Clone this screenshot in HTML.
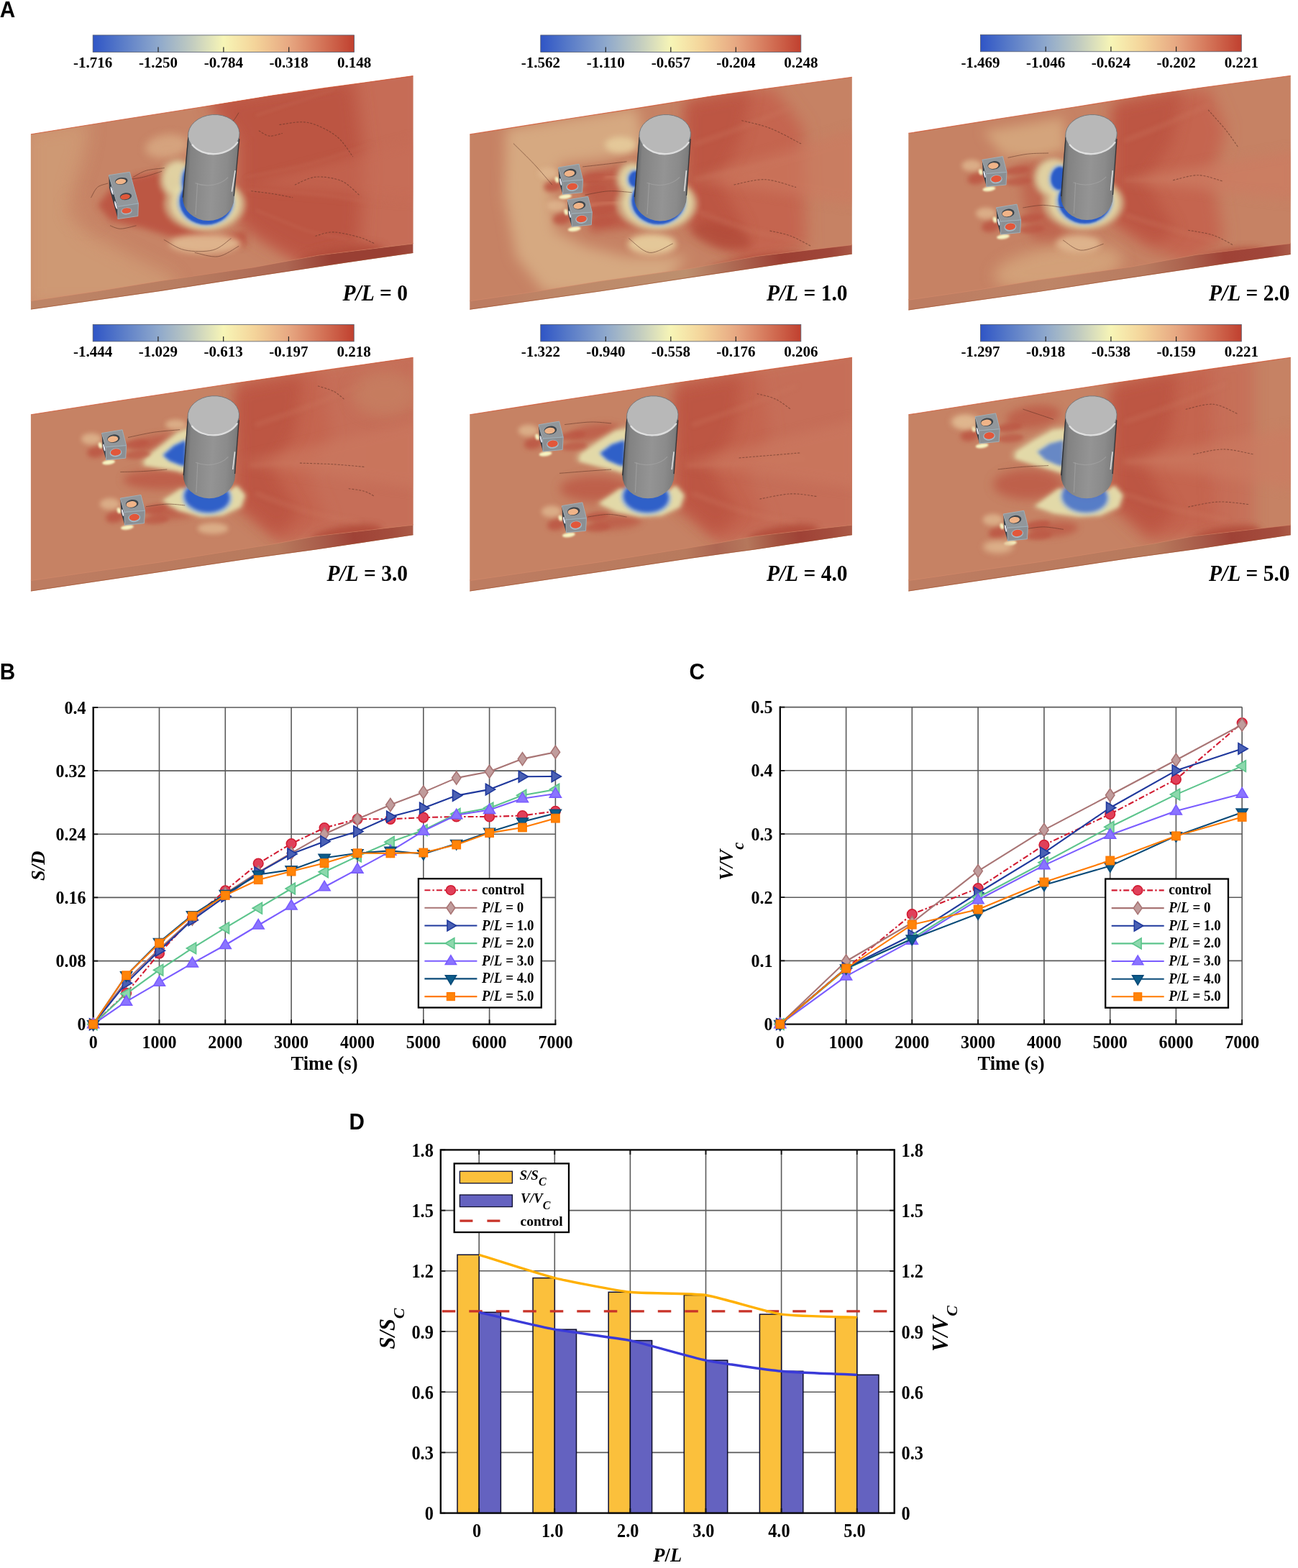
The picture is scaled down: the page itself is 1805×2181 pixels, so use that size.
<!DOCTYPE html>
<html><head><meta charset="utf-8"><title>Figure</title>
<style>
html,body{margin:0;padding:0;background:#fff;}
body{width:1805px;height:2181px;overflow:hidden;}
svg{display:block;}
text{font-family:"Liberation Serif",serif;font-weight:bold;fill:#000;}
.pl{font-family:"Liberation Sans",sans-serif;font-weight:bold;font-size:29.7px;}
.i{font-style:italic;}
</style></head><body>
<svg width="1805" height="2181" viewBox="0 0 1805 2181">
<rect width="1805" height="2181" fill="#fff"/>
<defs><filter id="b0_5" x="-50%" y="-50%" width="200%" height="200%"><feGaussianBlur stdDeviation="0.5"/></filter><filter id="b1" x="-50%" y="-50%" width="200%" height="200%"><feGaussianBlur stdDeviation="1"/></filter><filter id="b1_2" x="-50%" y="-50%" width="200%" height="200%"><feGaussianBlur stdDeviation="1.2"/></filter><filter id="b1_5" x="-50%" y="-50%" width="200%" height="200%"><feGaussianBlur stdDeviation="1.5"/></filter><filter id="b2" x="-50%" y="-50%" width="200%" height="200%"><feGaussianBlur stdDeviation="2"/></filter><filter id="b2_5" x="-50%" y="-50%" width="200%" height="200%"><feGaussianBlur stdDeviation="2.5"/></filter><filter id="b3" x="-50%" y="-50%" width="200%" height="200%"><feGaussianBlur stdDeviation="3"/></filter><filter id="b3_5" x="-50%" y="-50%" width="200%" height="200%"><feGaussianBlur stdDeviation="3.5"/></filter><filter id="b4" x="-50%" y="-50%" width="200%" height="200%"><feGaussianBlur stdDeviation="4"/></filter><filter id="b5" x="-50%" y="-50%" width="200%" height="200%"><feGaussianBlur stdDeviation="5"/></filter><filter id="b6" x="-50%" y="-50%" width="200%" height="200%"><feGaussianBlur stdDeviation="6"/></filter><filter id="b7" x="-50%" y="-50%" width="200%" height="200%"><feGaussianBlur stdDeviation="7"/></filter><filter id="b8" x="-50%" y="-50%" width="200%" height="200%"><feGaussianBlur stdDeviation="8"/></filter><filter id="b9" x="-50%" y="-50%" width="200%" height="200%"><feGaussianBlur stdDeviation="9"/></filter><filter id="b10" x="-50%" y="-50%" width="200%" height="200%"><feGaussianBlur stdDeviation="10"/></filter><filter id="b11" x="-50%" y="-50%" width="200%" height="200%"><feGaussianBlur stdDeviation="11"/></filter><filter id="b12" x="-50%" y="-50%" width="200%" height="200%"><feGaussianBlur stdDeviation="12"/></filter></defs>
<text class="pl" transform="translate(-0.3 24.4) scale(1 1.04)">A</text>
<defs>
<clipPath id="c13"><path d="M42.9 186.8L168.5 166.5L274.9 149.8L377.9 133L451.9 122.4L574.4 105.6L574.4 339.1L442.4 355.2L352.2 372L223.3 390.7L136.3 404.9L42.9 418.7Z"/></clipPath>
<linearGradient id="g14" gradientUnits="userSpaceOnUse" x1="42.9" y1="186.8" x2="574.4" y2="105.6"><stop offset="0" stop-color="#c78466"/><stop offset="1" stop-color="#c78466"/></linearGradient>
<linearGradient id="s15" gradientUnits="userSpaceOnUse" x1="42.9" y1="186.8" x2="574.4" y2="105.6"><stop offset="0" stop-color="#bd8466"/><stop offset="0.33" stop-color="#b87d61"/><stop offset="0.6" stop-color="#ad6753"/><stop offset="0.72" stop-color="#993f33"/><stop offset="0.88" stop-color="#993f33"/><stop offset="1" stop-color="#a85747"/></linearGradient>
</defs>
<path d="M42.9 417.7L136.3 403.9L223.3 389.7L352.2 371L442.4 354.2L574.4 338.1L574.4 352L481 365.5L352.2 384.9L223.3 404.9L42.9 430.6Z" fill="url(#s15)"/>
<path d="M42.9 186.8L168.5 166.5L274.9 149.8L377.9 133L451.9 122.4L574.4 105.6L574.4 339.1L442.4 355.2L352.2 372L223.3 390.7L136.3 404.9L42.9 418.7Z" fill="url(#g14)"/>
<g clip-path="url(#c13)">
<path d="M35.7 178.4L124.9 167.7L117.7 214.1L99.9 271.1L117.7 321.1L185.5 356.8L242.6 385.3L249.7 428.1L35.7 428.1Z" fill="#cf9a75" opacity="0.95" filter="url(#b12)"/>
<ellipse cx="117.7" cy="292.5" rx="25" ry="21.4" fill="#c78466" opacity="0.5" filter="url(#b10)"/>
<path d="M285.4 135.6L585.1 89.2L585.1 349.6L421 367.5L363.9 331.8L331.8 306.8L331.8 192.7Z" fill="#c66c56" filter="url(#b8)"/>
<path d="M289 139.1L492.3 107L506.6 221.2L499.5 342.5L421 363.9L363.9 331.8L331.8 306.8L331.8 192.7Z" fill="#bc5442" filter="url(#b12)"/>
<ellipse cx="474.5" cy="356.8" rx="60.6" ry="14.3" fill="#b04838" opacity="0.85" transform="rotate(-9 474.5 356.8)" filter="url(#b6)"/>
<path d="M135.6 285.4L160.5 255.1L189.1 244.4L228.3 237.2L256.9 256.9L260.4 313.9L303.2 330L342.5 321.1L342.5 342.5L285.4 342.5L228.3 326.4L199.8 317.5L153.4 306.8Z" fill="#bc5442" opacity="0.95" filter="url(#b5)"/>
<ellipse cx="285.4" cy="338.9" rx="49.9" ry="13.6" fill="#e0b890" opacity="0.95" filter="url(#b4)"/>
<ellipse cx="231.9" cy="203.4" rx="30.3" ry="16.1" fill="#d9ab84" opacity="0.8" transform="rotate(-8 231.9 203.4)" filter="url(#b6)"/>
<path d="M342.5 246.2C356.8 243.2 399 236.1 428.1 228.3C457.2 220.6 502.4 204.5 517.3 199.8" fill="none" stroke="#c66c56" stroke-width="3" opacity="0.4" filter="url(#b2)" stroke-linecap="round"/>
<path d="M342.5 264C359.7 265.2 413.8 267.6 446 271.1C478.1 274.7 520.3 283 535.1 285.4" fill="none" stroke="#c66c56" stroke-width="3" opacity="0.4" filter="url(#b2)" stroke-linecap="round"/>
<path d="M356.8 292.5C368.7 297.3 407.3 314.5 428.1 321.1C448.9 327.6 472.7 330 481.6 331.8" fill="none" stroke="#c66c56" stroke-width="3" opacity="0.4" filter="url(#b2)" stroke-linecap="round"/>
<path d="M356.8 160.5C365.7 157.6 392.4 148.7 410.3 142.7C428.1 136.8 454.9 127.8 463.8 124.9" fill="none" stroke="#c66c56" stroke-width="3" opacity="0.4" filter="url(#b2)" stroke-linecap="round"/>
<path d="M342.5 256.9L585.1 192.7L585.1 278.3Z" fill="#c86e58" opacity="0.5" filter="url(#b8)"/>
<ellipse cx="284.8" cy="284.1" rx="57" ry="38" fill="#d2b088" opacity="0.8" filter="url(#b3_5)"/>
<ellipse cx="245.8" cy="248.6" rx="24.5" ry="28" fill="#d2b088" opacity="0.8" transform="rotate(10 245.8 248.6)" filter="url(#b3_5)"/>
<ellipse cx="285.8" cy="283.6" rx="49" ry="34.5" fill="#e4dcaa" opacity="0.8" filter="url(#b3)"/>
<ellipse cx="246.8" cy="248.6" rx="19.5" ry="23" fill="#e4dcaa" opacity="0.8" transform="rotate(10 246.8 248.6)" filter="url(#b3)"/>
<ellipse cx="286.3" cy="281.1" rx="40" ry="34" fill="#9ab4d6" opacity="0.9" filter="url(#b2)"/>
<ellipse cx="257.8" cy="249.6" rx="7.5" ry="18" fill="#9ab4d6" opacity="0.9" transform="rotate(6 257.8 249.6)" filter="url(#b2)"/>
<ellipse cx="286.8" cy="279.6" rx="37" ry="33" fill="#2a5cc8" filter="url(#b1_2)"/>
<ellipse cx="258.8" cy="249.6" rx="5" ry="15" fill="#2a5cc8" transform="rotate(5 258.8 249.6)" filter="url(#b1_5)"/>
<path d="M185.5 246.2C188.5 244.7 196.2 239.3 203.4 237.2C210.5 235.2 224.2 234.3 228.3 233.7" fill="none" stroke="#5a3024" stroke-width="0.9" opacity="0.6" filter="url(#b0_5)" stroke-linecap="round"/>
<path d="M178.4 249.7C181.9 249.1 192.1 248.1 199.8 246.2C207.5 244.3 220.6 239.6 224.8 238.3" fill="none" stroke="#5a3024" stroke-width="0.9" opacity="0.6" filter="url(#b0_5)" stroke-linecap="round"/>
<path d="M126.7 274.7C128.1 272.3 131.7 263.7 135.6 260.4C139.4 257.2 147.5 256 149.8 255.1" fill="none" stroke="#5a3024" stroke-width="0.9" opacity="0.6" filter="url(#b0_5)" stroke-linecap="round"/>
<path d="M153.4 313.9C155.8 314.7 161.7 318.2 167.7 318.2C173.6 318.2 185.5 314.7 189.1 313.9" fill="none" stroke="#5a3024" stroke-width="0.9" opacity="0.6" filter="url(#b0_5)" stroke-linecap="round"/>
<path d="M228.3 333.6C233.1 335.9 245.6 345.5 256.9 347.8C268.2 350.2 285.4 350.5 296.1 347.8C306.8 345.2 316.9 334.5 321.1 331.8" fill="none" stroke="#5a3024" stroke-width="0.9" opacity="0.6" filter="url(#b0_5)" stroke-linecap="round"/>
<path d="M271.1 351.4C276.5 352.3 293.1 358.2 303.2 356.8C313.4 355.3 327 344.9 331.8 342.5" fill="none" stroke="#5a3024" stroke-width="0.9" opacity="0.6" filter="url(#b0_5)" stroke-linecap="round"/>
<path d="M331.8 157C330.6 158.8 327 165.3 324.7 167.7C322.3 170.1 318.7 170.7 317.5 171.2" fill="none" stroke="#5a3024" stroke-width="0.9" opacity="0.6" filter="url(#b0_5)" stroke-linecap="round"/>
<path d="M388.9 173.4C395.4 172.9 415 167.9 428.1 170.5C441.2 173.1 457 181.2 467.4 189.1C477.8 196.9 486.7 212.9 490.5 217.6" fill="none" stroke="#5a3024" stroke-width="1.1" opacity="0.55" stroke-dasharray="2.2 2.6" filter="url(#b0_5)" stroke-linecap="round"/>
<path d="M410.3 256.9C415 255.1 428.1 247.1 438.8 246.2C449.5 245.3 464.4 247.4 474.5 251.5C484.6 255.7 495.3 267.9 499.5 271.1" fill="none" stroke="#5a3024" stroke-width="1.1" opacity="0.55" stroke-dasharray="2.2 2.6" filter="url(#b0_5)" stroke-linecap="round"/>
<path d="M438.8 328.2C443 327.3 453.7 322.6 463.8 322.9C473.9 323.2 490 327.3 499.5 330C509 332.7 517.3 337.4 520.9 338.9" fill="none" stroke="#5a3024" stroke-width="1.1" opacity="0.55" stroke-dasharray="2.2 2.6" filter="url(#b0_5)" stroke-linecap="round"/>
<path d="M349.6 265.8C354.4 266.4 368.7 267.9 378.2 269.4C387.7 270.8 402 273.8 406.7 274.7" fill="none" stroke="#5a3024" stroke-width="1.1" opacity="0.55" stroke-dasharray="2.2 2.6" filter="url(#b0_5)" stroke-linecap="round"/>
<path d="M360.3 181.9C362.7 183.1 369.2 188.5 374.6 189.1C380 189.7 389.5 186.1 392.4 185.5" fill="none" stroke="#5a3024" stroke-width="1.1" opacity="0.55" stroke-dasharray="2.2 2.6" filter="url(#b0_5)" stroke-linecap="round"/>
</g>
<path d="M42.9 186.8L168.5 166.5L274.9 149.8L377.9 133L451.9 122.4L574.4 105.6" fill="none" stroke="#d2502e" stroke-width="1.1" opacity="0.75"/><path d="M42.9 418.7L136.3 404.9L223.3 390.7L352.2 372L442.4 355.2L574.4 339.1" fill="none" stroke="#e09070" stroke-width="0.8" opacity="0.5"/><path d="M42.9 430.1L223.3 404.4L352.2 384.4L481 365L574.4 351.5" fill="none" stroke="#a0522e" stroke-width="1" opacity="0.6"/>
<path d="M151.3 243.7L163.9 287.5L163.9 304.5L151.9 261.2Z" fill="#3a3f46"/>
<path d="M151.3 243.7L180.3 239.3L192.4 283.1L163.9 287.5Z" fill="#92979b" stroke="#9fb2bc" stroke-width="0.9" stroke-linejoin="round"/>
<path d="M163.9 287.5L192.4 283.1L191.8 300.6L163.9 304.5Z" fill="#8b8f93" stroke="#9fb2bc" stroke-width="0.9" stroke-linejoin="round"/>
<ellipse cx="168.8" cy="251.9" rx="8.8" ry="4.9" fill="#3e444a" transform="rotate(-8 168.8 251.9)"/>
<ellipse cx="168" cy="252.5" rx="7.3" ry="3.7" fill="#f0b488" transform="rotate(-8 168 252.5)"/>
<ellipse cx="174.9" cy="273.2" rx="8.2" ry="4.9" fill="#3e444a" transform="rotate(-8 174.9 273.2)"/>
<ellipse cx="174.1" cy="273.8" rx="6.8" ry="3.6" fill="#e0583a" transform="rotate(-8 174.1 273.8)"/>
<ellipse cx="176" cy="293.5" rx="7.7" ry="4.9" fill="#a3b8c4" transform="rotate(-6 176 293.5)"/>
<ellipse cx="176" cy="293" rx="6.6" ry="3.8" fill="#e2573a" transform="rotate(-6 176 293)"/>
<ellipse cx="155.6" cy="265.3" rx="1.2" ry="6" fill="#e8e8f0" transform="rotate(-16 155.6 265.3)"/>
<ellipse cx="161.1" cy="285.3" rx="1.2" ry="6" fill="#e8e8f0" transform="rotate(-16 161.1 285.3)"/>
<defs><linearGradient id="cg1" gradientUnits="userSpaceOnUse" x1="254" y1="274.6" x2="333.1" y2="278.6"><stop offset="0" stop-color="#4a4d52"/><stop offset="0.04" stop-color="#6c6e70"/><stop offset="0.1" stop-color="#828282"/><stop offset="0.3" stop-color="#8c8c8c"/><stop offset="0.5" stop-color="#949494"/><stop offset="0.75" stop-color="#8b8b8b"/><stop offset="0.9" stop-color="#7e7e7e"/><stop offset="0.96" stop-color="#626262"/><stop offset="1" stop-color="#303030"/></linearGradient></defs>
<path d="M261.5 187.1L254 274.6A35.8 32 0 0 0 325.6 275.6L333.1 187.1Z" fill="url(#cg1)"/>
<path d="M261.8 191.1L254.3 274.6" stroke="#20242a" stroke-width="1.3" fill="none" opacity="0.8"/>
<path d="M332.8 193.1L325.3 272.6" stroke="#20242a" stroke-width="1.3" fill="none" opacity="0.8"/>
<path d="M271.6 254.6A35.8 27.6 0 0 0 317.2 246.6" stroke="#a4a4a4" stroke-width="1.2" fill="none" opacity="0.7"/>
<path d="M274.6 254.6L272 298.6" stroke="#a0a0a0" stroke-width="1.2" fill="none" opacity="0.8"/>
<path d="M327.1 237.1L322.4 266.6" stroke="#dedede" stroke-width="1.6" fill="none"/>
<ellipse cx="297.3" cy="187.1" rx="35.8" ry="27.6" fill="#b8b8b8" stroke="#6a7074" stroke-width="0.8" transform="rotate(-4 297.3 187.1)"/>
<path d="M267.5 201.6A35.8 27.6 -4 0 0 330.1 198.1" stroke="#e6e6e6" stroke-width="2.4" fill="none" opacity="0.9" stroke-linecap="round"/>
<defs><linearGradient id="cb2" x1="0" x2="1" y1="0" y2="0"><stop offset="0" stop-color="#2f55c6"/><stop offset="0.1" stop-color="#5578c8"/><stop offset="0.25" stop-color="#8ea8cc"/><stop offset="0.38" stop-color="#c2ccc0"/><stop offset="0.5" stop-color="#f7f5b6"/><stop offset="0.62" stop-color="#f4d49a"/><stop offset="0.75" stop-color="#e7a882"/><stop offset="0.9" stop-color="#d06a50"/><stop offset="1" stop-color="#c0402f"/></linearGradient></defs>
<rect x="129.2" y="48.9" width="363.3" height="23.5" fill="url(#cb2)" stroke="#50586a" stroke-width="0.8"/>
<path d="M220 72.4v-7" stroke="#222" stroke-width="1.2"/>
<path d="M310.9 72.4v-7" stroke="#222" stroke-width="1.2"/>
<path d="M401.7 72.4v-7" stroke="#222" stroke-width="1.2"/>
<text x="129.2" y="94.4" font-size="21" text-anchor="middle">-1.716</text>
<text x="220" y="94.4" font-size="21" text-anchor="middle">-1.250</text>
<text x="310.9" y="94.4" font-size="21" text-anchor="middle">-0.784</text>
<text x="401.7" y="94.4" font-size="21" text-anchor="middle">-0.318</text>
<text x="492.5" y="94.4" font-size="21" text-anchor="middle">0.148</text>
<text transform="translate(567 418.2) scale(1 1.06)" font-size="29.5" text-anchor="end"><tspan class="i">P/L</tspan> = 0</text>
<defs>
<clipPath id="c16"><path d="M653.3 186.9L778.9 167L885.3 150.6L988.3 134L1062.3 123.7L1184.8 107.2L1184.8 340.7L1052.8 356.4L962.6 373L833.7 391.3L746.7 405.3L653.3 418.8Z"/></clipPath>
<linearGradient id="g17" gradientUnits="userSpaceOnUse" x1="653.3" y1="186.9" x2="1184.8" y2="107.2"><stop offset="0" stop-color="#c68264"/><stop offset="1" stop-color="#c68264"/></linearGradient>
<linearGradient id="s18" gradientUnits="userSpaceOnUse" x1="653.3" y1="186.9" x2="1184.8" y2="107.2"><stop offset="0" stop-color="#bd7c61"/><stop offset="0.2" stop-color="#be8969"/><stop offset="0.5" stop-color="#bd8f6e"/><stop offset="0.66" stop-color="#a95d4a"/><stop offset="0.75" stop-color="#9c3f33"/><stop offset="0.88" stop-color="#9f4639"/><stop offset="1" stop-color="#b46c54"/></linearGradient>
</defs>
<path d="M653.3 417.8L746.7 404.3L833.7 390.3L962.6 372L1052.8 355.4L1184.8 339.7L1184.8 353.6L1091.4 366.8L962.6 385.9L833.7 405.5L653.3 430.7Z" fill="url(#s18)"/>
<path d="M653.3 186.9L778.9 167L885.3 150.6L988.3 134L1062.3 123.7L1184.8 107.2L1184.8 340.7L1052.8 356.4L962.6 373L833.7 391.3L746.7 405.3L653.3 418.8Z" fill="url(#g17)"/>
<g clip-path="url(#c16)">
<path d="M703.5 178.4L885.4 149.8L896.1 199.8L849.7 219.4L778.4 228.3L767.7 271.1L771.2 321.1L814.1 342.5L871.1 356.8L956.8 356.8L921.1 396L821.2 410.3L757 406.7L717.7 356.8L701.7 271.1Z" fill="#d6a981" filter="url(#b9)"/>
<path d="M956.8 139.1L1074.5 121.3L1117.3 178.4L1120.9 342.5L1046 371L992.4 331.8L956.8 310.4Z" fill="#c5654f" filter="url(#b11)"/>
<path d="M953.2 142.7L1046 124.9L1028.1 199.8L999.6 249.7L1038.8 321.1L1010.3 342.5L956.8 310.4Z" fill="#bc5442" opacity="0.9" filter="url(#b10)"/>
<ellipse cx="1053.1" cy="365.7" rx="67.8" ry="10.7" fill="#b04838" opacity="0.85" transform="rotate(-9 1053.1 365.7)" filter="url(#b5)"/>
<ellipse cx="1003.1" cy="328.2" rx="42.8" ry="16.1" fill="#b04838" opacity="0.7" transform="rotate(15 1003.1 328.2)" filter="url(#b6)"/>
<path d="M810.5 240.8L881.8 228.3L889 315.7L821.2 322.9Z" fill="#bc5442" opacity="0.8" filter="url(#b6)"/>
<path d="M814.1 249.7C820 249.1 839 246.2 849.7 246.2C860.4 246.2 873.5 249.1 878.3 249.7" fill="none" stroke="#d88468" stroke-width="4" opacity="0.6" filter="url(#b2)" stroke-linecap="round"/>
<path d="M821.2 285.4C827.1 284.8 846.2 281.8 856.9 281.8C867.6 281.8 880.7 284.8 885.4 285.4" fill="none" stroke="#d88468" stroke-width="4" opacity="0.6" filter="url(#b2)" stroke-linecap="round"/>
<path d="M967.5 249.7C980.5 246.8 1019.2 237.8 1046 231.9C1072.7 225.9 1114.3 217 1128 214.1" fill="none" stroke="#cc7860" stroke-width="5" opacity="0.4" filter="url(#b3)" stroke-linecap="round"/>
<path d="M967.5 199.8C977.6 196.2 1006.1 186.7 1028.1 178.4C1050.1 170.1 1087.6 154.6 1099.5 149.8" fill="none" stroke="#cc7860" stroke-width="5" opacity="0.4" filter="url(#b3)" stroke-linecap="round"/>
<path d="M974.6 296.1C986.5 300.3 1022.2 314.5 1046 321.1C1069.7 327.6 1105.4 333 1117.3 335.4" fill="none" stroke="#cc7860" stroke-width="5" opacity="0.4" filter="url(#b3)" stroke-linecap="round"/>
<ellipse cx="906.8" cy="339.6" rx="33.9" ry="14.3" fill="#e6cc9c" opacity="0.95" filter="url(#b4)"/>
<ellipse cx="863.3" cy="201.6" rx="22.1" ry="11.4" fill="#e6cc9c" opacity="0.9" filter="url(#b4)"/>
<path d="M960.3 249.7L1192.2 178.4L1192.2 285.4Z" fill="#cc7a60" opacity="0.6" filter="url(#b8)"/>
<ellipse cx="913.4" cy="283.5" rx="57" ry="38" fill="#d2b088" opacity="0.8" filter="url(#b3_5)"/>
<ellipse cx="877.4" cy="248" rx="21.5" ry="24" fill="#d2b088" opacity="0.8" transform="rotate(10 877.4 248)" filter="url(#b3_5)"/>
<ellipse cx="914.4" cy="283" rx="49" ry="34.5" fill="#e4dcaa" opacity="0.8" filter="url(#b3)"/>
<ellipse cx="878.4" cy="248" rx="16.5" ry="19" fill="#e4dcaa" opacity="0.8" transform="rotate(10 878.4 248)" filter="url(#b3)"/>
<ellipse cx="914.9" cy="280.5" rx="40" ry="34" fill="#9ab4d6" opacity="0.9" filter="url(#b2)"/>
<ellipse cx="882.4" cy="249" rx="11.5" ry="14" fill="#9ab4d6" opacity="0.9" transform="rotate(6 882.4 249)" filter="url(#b2)"/>
<ellipse cx="915.4" cy="279" rx="37" ry="33" fill="#2a5cc8" filter="url(#b1_2)"/>
<ellipse cx="883.4" cy="249" rx="9" ry="11" fill="#2a5cc8" transform="rotate(5 883.4 249)" filter="url(#b1_5)"/>
<ellipse cx="769" cy="259" rx="13" ry="8" fill="#bc5442" opacity="0.85" transform="rotate(-10 769 259)" filter="url(#b3)"/>
<ellipse cx="824" cy="248" rx="18" ry="6" fill="#bc5442" opacity="0.765" transform="rotate(-8 824 248)" filter="url(#b2_5)"/>
<ellipse cx="826" cy="263" rx="18" ry="6" fill="#bc5442" opacity="0.68" transform="rotate(-5 826 263)" filter="url(#b2_5)"/>
<ellipse cx="762" cy="241" rx="14" ry="8" fill="#e0b890" opacity="0.8" filter="url(#b3)"/>
<ellipse cx="786" cy="273.5" rx="9" ry="3.2" fill="#f6f4c2" transform="rotate(-8 786 273.5)" filter="url(#b1_2)"/>
<ellipse cx="774.5" cy="250" rx="2.6" ry="4.2" fill="#f6f4c2" transform="rotate(-15 774.5 250)" filter="url(#b1)"/>
<ellipse cx="781.7" cy="304" rx="13" ry="8" fill="#bc5442" opacity="0.85" transform="rotate(-10 781.7 304)" filter="url(#b3)"/>
<ellipse cx="836.7" cy="293" rx="18" ry="6" fill="#bc5442" opacity="0.765" transform="rotate(-8 836.7 293)" filter="url(#b2_5)"/>
<ellipse cx="838.7" cy="308" rx="18" ry="6" fill="#bc5442" opacity="0.68" transform="rotate(-5 838.7 308)" filter="url(#b2_5)"/>
<ellipse cx="774.7" cy="286" rx="14" ry="8" fill="#e0b890" opacity="0.8" filter="url(#b3)"/>
<ellipse cx="798.7" cy="318.5" rx="9" ry="3.2" fill="#f6f4c2" transform="rotate(-8 798.7 318.5)" filter="url(#b1_2)"/>
<ellipse cx="787.2" cy="295" rx="2.6" ry="4.2" fill="#f6f4c2" transform="rotate(-15 787.2 295)" filter="url(#b1)"/>
<path d="M810.5 231.9C815.8 231.3 832.5 229.5 842.6 228.3C852.7 227.1 866.4 225.4 871.1 224.8" fill="none" stroke="#5a3024" stroke-width="0.9" opacity="0.6" filter="url(#b0_5)" stroke-linecap="round"/>
<path d="M814.1 271.1C819.4 270.2 835.5 266.4 846.2 265.8C856.9 265.2 872.9 267.3 878.3 267.6" fill="none" stroke="#5a3024" stroke-width="0.9" opacity="0.6" filter="url(#b0_5)" stroke-linecap="round"/>
<path d="M874.7 331.8C879.5 335.1 893.1 350.2 903.2 351.4C913.4 352.6 930 341 935.4 338.9" fill="none" stroke="#5a3024" stroke-width="0.9" opacity="0.6" filter="url(#b0_5)" stroke-linecap="round"/>
<path d="M714.2 199.8C718.9 204.5 733.8 218.8 742.7 228.3C751.6 237.8 763.5 252.1 767.7 256.9" fill="none" stroke="#5a3024" stroke-width="0.9" opacity="0.6" filter="url(#b0_5)" stroke-linecap="round"/>
<path d="M1031.7 167.7C1038.2 169.5 1057.2 173 1070.9 178.4C1084.6 183.7 1106.6 196.2 1113.7 199.8" fill="none" stroke="#5a3024" stroke-width="1.1" opacity="0.55" stroke-dasharray="2.2 2.6" filter="url(#b0_5)" stroke-linecap="round"/>
<path d="M1021 256.9C1028.1 255.7 1049.5 249.1 1063.8 249.7C1078.1 250.3 1099.5 258.7 1106.6 260.4" fill="none" stroke="#5a3024" stroke-width="1.1" opacity="0.55" stroke-dasharray="2.2 2.6" filter="url(#b0_5)" stroke-linecap="round"/>
<path d="M1070.9 321.1C1075.7 322.3 1090 324.7 1099.5 328.2C1109 331.8 1123.2 340.1 1128 342.5" fill="none" stroke="#5a3024" stroke-width="1.1" opacity="0.55" stroke-dasharray="2.2 2.6" filter="url(#b0_5)" stroke-linecap="round"/>
</g>
<path d="M653.3 186.9L778.9 167L885.3 150.6L988.3 134L1062.3 123.7L1184.8 107.2" fill="none" stroke="#d2502e" stroke-width="1.1" opacity="0.75"/><path d="M653.3 418.8L746.7 405.3L833.7 391.3L962.6 373L1052.8 356.4L1184.8 340.7" fill="none" stroke="#e09070" stroke-width="0.8" opacity="0.5"/><path d="M653.3 430.2L833.7 405L962.6 385.4L1091.4 366.3L1184.8 353.1" fill="none" stroke="#a0522e" stroke-width="1" opacity="0.6"/>
<path d="M776.4 233L781.8 252.4L782.5 270.2L777.6 253.6Z" fill="#3a3f46"/>
<path d="M776.4 233L805 228.3L810.6 250.2L781.8 252.4Z" fill="#92979b" stroke="#9fb2bc" stroke-width="0.9" stroke-linejoin="round"/>
<path d="M781.8 252.4L810.6 250.2L809.6 267.7L782.5 270.2Z" fill="#8b8f93" stroke="#9fb2bc" stroke-width="0.9" stroke-linejoin="round"/>
<ellipse cx="792.8" cy="240.6" rx="8.8" ry="5.7" fill="#3e444a" transform="rotate(-8 792.8 240.6)"/>
<ellipse cx="791.9" cy="241.3" rx="7.3" ry="4.3" fill="#f0b488" transform="rotate(-8 791.9 241.3)"/>
<ellipse cx="795.9" cy="260" rx="8.4" ry="6" fill="#a3b8c4" transform="rotate(-6 795.9 260)"/>
<ellipse cx="795.9" cy="259.4" rx="7.2" ry="4.7" fill="#e2573a" transform="rotate(-6 795.9 259.4)"/>
<ellipse cx="779.7" cy="253" rx="1.1" ry="5" fill="#e8e8f0" transform="rotate(-12 779.7 253)"/>
<path d="M789.1 278L794.5 297.4L795.2 315.2L790.3 298.6Z" fill="#3a3f46"/>
<path d="M789.1 278L817.7 273.3L823.3 295.2L794.5 297.4Z" fill="#92979b" stroke="#9fb2bc" stroke-width="0.9" stroke-linejoin="round"/>
<path d="M794.5 297.4L823.3 295.2L822.3 312.7L795.2 315.2Z" fill="#8b8f93" stroke="#9fb2bc" stroke-width="0.9" stroke-linejoin="round"/>
<ellipse cx="805.5" cy="285.6" rx="8.8" ry="5.7" fill="#3e444a" transform="rotate(-8 805.5 285.6)"/>
<ellipse cx="804.6" cy="286.3" rx="7.3" ry="4.3" fill="#f0b488" transform="rotate(-8 804.6 286.3)"/>
<ellipse cx="808.6" cy="305" rx="8.4" ry="6" fill="#a3b8c4" transform="rotate(-6 808.6 305)"/>
<ellipse cx="808.6" cy="304.4" rx="7.2" ry="4.7" fill="#e2573a" transform="rotate(-6 808.6 304.4)"/>
<ellipse cx="792.4" cy="298" rx="1.1" ry="5" fill="#e8e8f0" transform="rotate(-12 792.4 298)"/>
<defs><linearGradient id="cg3" gradientUnits="userSpaceOnUse" x1="882" y1="274" x2="960.5" y2="278"><stop offset="0" stop-color="#4a4d52"/><stop offset="0.04" stop-color="#6c6e70"/><stop offset="0.1" stop-color="#828282"/><stop offset="0.3" stop-color="#8c8c8c"/><stop offset="0.5" stop-color="#949494"/><stop offset="0.75" stop-color="#8b8b8b"/><stop offset="0.9" stop-color="#7e7e7e"/><stop offset="0.96" stop-color="#626262"/><stop offset="1" stop-color="#303030"/></linearGradient></defs>
<path d="M888.9 187.1L882 274A36.4 33 0 0 0 954.8 275L960.5 187.1Z" fill="url(#cg3)"/>
<path d="M889.2 191.1L882.3 274" stroke="#20242a" stroke-width="1.3" fill="none" opacity="0.8"/>
<path d="M960.2 193.1L954.5 272" stroke="#20242a" stroke-width="1.3" fill="none" opacity="0.8"/>
<path d="M899.6 254.3A35.8 27.6 0 0 0 945.2 246.3" stroke="#a4a4a4" stroke-width="1.2" fill="none" opacity="0.7"/>
<path d="M902.6 254.3L900 298" stroke="#a0a0a0" stroke-width="1.2" fill="none" opacity="0.8"/>
<path d="M954.5 237.1L951.6 266" stroke="#dedede" stroke-width="1.6" fill="none"/>
<ellipse cx="924.7" cy="187.1" rx="35.8" ry="27.6" fill="#b8b8b8" stroke="#6a7074" stroke-width="0.8" transform="rotate(-4 924.7 187.1)"/>
<path d="M894.9 201.6A35.8 27.6 -4 0 0 957.5 198.1" stroke="#e6e6e6" stroke-width="2.4" fill="none" opacity="0.9" stroke-linecap="round"/>
<defs><linearGradient id="cb4" x1="0" x2="1" y1="0" y2="0"><stop offset="0" stop-color="#2f55c6"/><stop offset="0.1" stop-color="#5578c8"/><stop offset="0.25" stop-color="#8ea8cc"/><stop offset="0.38" stop-color="#c2ccc0"/><stop offset="0.5" stop-color="#f7f5b6"/><stop offset="0.62" stop-color="#f4d49a"/><stop offset="0.75" stop-color="#e7a882"/><stop offset="0.9" stop-color="#d06a50"/><stop offset="1" stop-color="#c0402f"/></linearGradient></defs>
<rect x="751.8" y="48.9" width="362" height="23.5" fill="url(#cb4)" stroke="#50586a" stroke-width="0.8"/>
<path d="M842.3 72.4v-7" stroke="#222" stroke-width="1.2"/>
<path d="M932.8 72.4v-7" stroke="#222" stroke-width="1.2"/>
<path d="M1023.3 72.4v-7" stroke="#222" stroke-width="1.2"/>
<text x="751.8" y="94.4" font-size="21" text-anchor="middle">-1.562</text>
<text x="842.3" y="94.4" font-size="21" text-anchor="middle">-1.110</text>
<text x="932.8" y="94.4" font-size="21" text-anchor="middle">-0.657</text>
<text x="1023.3" y="94.4" font-size="21" text-anchor="middle">-0.204</text>
<text x="1113.8" y="94.4" font-size="21" text-anchor="middle">0.248</text>
<text transform="translate(1178.5 418.2) scale(1 1.06)" font-size="29.5" text-anchor="end"><tspan class="i">P/L</tspan> = 1.0</text>
<defs>
<clipPath id="c19"><path d="M1263.3 185.4L1388.9 165.3L1495.3 148.8L1598.3 132.2L1672.3 121.8L1794.8 105.2L1794.8 338.7L1662.8 354.6L1572.6 371.2L1443.7 389.6L1356.7 403.7L1263.3 417.3Z"/></clipPath>
<linearGradient id="g20" gradientUnits="userSpaceOnUse" x1="1263.3" y1="185.4" x2="1794.8" y2="105.2"><stop offset="0" stop-color="#c68264"/><stop offset="1" stop-color="#c68264"/></linearGradient>
<linearGradient id="s21" gradientUnits="userSpaceOnUse" x1="1263.3" y1="185.4" x2="1794.8" y2="105.2"><stop offset="0" stop-color="#bd7c61"/><stop offset="0.3" stop-color="#be8567"/><stop offset="0.55" stop-color="#b87b60"/><stop offset="0.68" stop-color="#a95d4a"/><stop offset="0.76" stop-color="#9f4236"/><stop offset="0.88" stop-color="#a0463a"/><stop offset="1" stop-color="#b8765b"/></linearGradient>
</defs>
<path d="M1263.3 416.3L1356.7 402.7L1443.7 388.6L1572.6 370.2L1662.8 353.6L1794.8 337.7L1794.8 353.9L1701.4 367.2L1572.6 386.4L1443.7 406.1L1263.3 431.5Z" fill="url(#s21)"/>
<path d="M1263.3 185.4L1388.9 165.3L1495.3 148.8L1598.3 132.2L1672.3 121.8L1794.8 105.2L1794.8 338.7L1662.8 354.6L1572.6 371.2L1443.7 389.6L1356.7 403.7L1263.3 417.3Z" fill="url(#g20)"/>
<g clip-path="url(#c19)">
<path d="M1367.1 182.8L1478.5 163.6L1482 208.9L1443.7 222.8L1394.9 215.8Z" fill="#d4a47c" filter="url(#b8)"/>
<ellipse cx="1471.5" cy="372.5" rx="90.5" ry="29.6" fill="#d4a47c" opacity="0.9" transform="rotate(-8 1471.5 372.5)" filter="url(#b10)"/>
<path d="M1551.6 142.7L1680.4 121.8L1704.8 181L1687.3 243.7L1701.3 334.2L1652.5 369L1582.9 334.2L1548.1 306.3Z" fill="#c5654f" filter="url(#b11)"/>
<path d="M1548.1 146.2L1645.6 125.3L1628.2 201.9L1593.4 250.6L1635.1 320.3L1607.3 341.1L1548.1 306.3Z" fill="#bc5442" opacity="0.9" filter="url(#b10)"/>
<ellipse cx="1711.7" cy="358.5" rx="48.7" ry="12.2" fill="#b04838" opacity="0.85" transform="rotate(-9 1711.7 358.5)" filter="url(#b5)"/>
<path d="M1415.8 226.3L1475 219.3L1482 264.6L1478.5 334.2L1436.7 334.2L1422.8 278.5Z" fill="#bc5442" opacity="0.6" filter="url(#b8)"/>
<path d="M1565.5 250.6C1578.9 250.3 1618.3 250.1 1645.6 248.9C1672.8 247.7 1715.2 244.5 1729.1 243.7" fill="none" stroke="#cc7860" stroke-width="5" opacity="0.4" filter="url(#b3)" stroke-linecap="round"/>
<path d="M1565.5 194.9C1574.2 191.5 1598.6 182.2 1617.7 174.1C1636.9 165.9 1669.9 150.8 1680.4 146.2" fill="none" stroke="#cc7860" stroke-width="5" opacity="0.4" filter="url(#b3)" stroke-linecap="round"/>
<path d="M1565.5 299.4C1577.1 302.9 1614.8 314.5 1635.1 320.3C1655.4 326.1 1678.6 331.9 1687.3 334.2" fill="none" stroke="#cc7860" stroke-width="5" opacity="0.4" filter="url(#b3)" stroke-linecap="round"/>
<path d="M1555.1 250.6L1802.2 208.9L1802.2 278.5Z" fill="#cc7c62" opacity="0.75" filter="url(#b8)"/>
<ellipse cx="1506.6" cy="282.5" rx="57" ry="38" fill="#d2b088" opacity="0.8" filter="url(#b3_5)"/>
<ellipse cx="1464.1" cy="247" rx="28" ry="29" fill="#d2b088" opacity="0.8" transform="rotate(10 1464.1 247)" filter="url(#b3_5)"/>
<ellipse cx="1507.6" cy="282" rx="49" ry="34.5" fill="#e4dcaa" opacity="0.8" filter="url(#b3)"/>
<ellipse cx="1465.1" cy="247" rx="23" ry="24" fill="#e4dcaa" opacity="0.8" transform="rotate(10 1465.1 247)" filter="url(#b3)"/>
<ellipse cx="1508.1" cy="279.5" rx="40" ry="34" fill="#9ab4d6" opacity="0.9" filter="url(#b2)"/>
<ellipse cx="1472.6" cy="248" rx="14.5" ry="19" fill="#9ab4d6" opacity="0.9" transform="rotate(6 1472.6 248)" filter="url(#b2)"/>
<ellipse cx="1508.6" cy="278" rx="37" ry="33" fill="#2a5cc8" filter="url(#b1_2)"/>
<ellipse cx="1473.6" cy="248" rx="12" ry="16" fill="#2a5cc8" transform="rotate(5 1473.6 248)" filter="url(#b1_5)"/>
<ellipse cx="1358.4" cy="248.3" rx="13" ry="8" fill="#bc5442" opacity="0.85" transform="rotate(-10 1358.4 248.3)" filter="url(#b3)"/>
<ellipse cx="1413.4" cy="237.3" rx="18" ry="6" fill="#bc5442" opacity="0.765" transform="rotate(-8 1413.4 237.3)" filter="url(#b2_5)"/>
<ellipse cx="1415.4" cy="252.3" rx="18" ry="6" fill="#bc5442" opacity="0.68" transform="rotate(-5 1415.4 252.3)" filter="url(#b2_5)"/>
<ellipse cx="1351.4" cy="230.3" rx="14" ry="8" fill="#e0b890" opacity="0.8" filter="url(#b3)"/>
<ellipse cx="1375.4" cy="262.8" rx="9" ry="3.2" fill="#f6f4c2" transform="rotate(-8 1375.4 262.8)" filter="url(#b1_2)"/>
<ellipse cx="1363.9" cy="239.3" rx="2.6" ry="4.2" fill="#f6f4c2" transform="rotate(-15 1363.9 239.3)" filter="url(#b1)"/>
<ellipse cx="1378" cy="314.8" rx="13" ry="8" fill="#bc5442" opacity="0.85" transform="rotate(-10 1378 314.8)" filter="url(#b3)"/>
<ellipse cx="1433" cy="303.8" rx="18" ry="6" fill="#bc5442" opacity="0.765" transform="rotate(-8 1433 303.8)" filter="url(#b2_5)"/>
<ellipse cx="1435" cy="318.8" rx="18" ry="6" fill="#bc5442" opacity="0.68" transform="rotate(-5 1435 318.8)" filter="url(#b2_5)"/>
<ellipse cx="1371" cy="296.8" rx="14" ry="8" fill="#e0b890" opacity="0.8" filter="url(#b3)"/>
<ellipse cx="1395" cy="329.3" rx="9" ry="3.2" fill="#f6f4c2" transform="rotate(-8 1395 329.3)" filter="url(#b1_2)"/>
<ellipse cx="1383.5" cy="305.8" rx="2.6" ry="4.2" fill="#f6f4c2" transform="rotate(-15 1383.5 305.8)" filter="url(#b1)"/>
<ellipse cx="1499.4" cy="339.4" rx="31.3" ry="12.2" fill="#e0b890" opacity="0.9" filter="url(#b4)"/>
<path d="M1401.9 219.3C1406.5 218.4 1420.5 215.1 1429.7 214.1C1439 213 1453 213.2 1457.6 213" fill="none" stroke="#5a3024" stroke-width="0.9" opacity="0.6" filter="url(#b0_5)" stroke-linecap="round"/>
<path d="M1422.8 288.9C1427.4 288.3 1441.4 285.4 1450.6 285.4C1459.9 285.4 1473.8 288.3 1478.5 288.9" fill="none" stroke="#5a3024" stroke-width="0.9" opacity="0.6" filter="url(#b0_5)" stroke-linecap="round"/>
<path d="M1478.5 334.2C1482.5 336.5 1493.6 347.2 1502.9 348.1C1512.1 349 1529 340.9 1534.2 339.4" fill="none" stroke="#5a3024" stroke-width="0.9" opacity="0.6" filter="url(#b0_5)" stroke-linecap="round"/>
<path d="M1680.4 153.2C1684.4 157.8 1697.8 172.3 1704.8 181C1711.7 189.7 1719.3 201.3 1722.2 205.4" fill="none" stroke="#5a3024" stroke-width="1.1" opacity="0.55" stroke-dasharray="2.2 2.6" filter="url(#b0_5)" stroke-linecap="round"/>
<path d="M1631.6 250.6C1637.5 249.5 1654.9 243.4 1666.5 243.7C1678.1 244 1695.5 250.9 1701.3 252.4" fill="none" stroke="#5a3024" stroke-width="1.1" opacity="0.55" stroke-dasharray="2.2 2.6" filter="url(#b0_5)" stroke-linecap="round"/>
<path d="M1652.5 320.3C1658.3 321.4 1676.9 323.7 1687.3 327.2C1697.8 330.7 1710.6 338.8 1715.2 341.1" fill="none" stroke="#5a3024" stroke-width="1.1" opacity="0.55" stroke-dasharray="2.2 2.6" filter="url(#b0_5)" stroke-linecap="round"/>
</g>
<path d="M1263.3 185.4L1388.9 165.3L1495.3 148.8L1598.3 132.2L1672.3 121.8L1794.8 105.2" fill="none" stroke="#d2502e" stroke-width="1.1" opacity="0.75"/><path d="M1263.3 417.3L1356.7 403.7L1443.7 389.6L1572.6 371.2L1662.8 354.6L1794.8 338.7" fill="none" stroke="#e09070" stroke-width="0.8" opacity="0.5"/><path d="M1263.3 431L1443.7 405.6L1572.6 385.9L1701.4 366.7L1794.8 353.4" fill="none" stroke="#a0522e" stroke-width="1" opacity="0.6"/>
<path d="M1365.8 222.3L1371.2 241.7L1371.9 259.5L1367 242.9Z" fill="#3a3f46"/>
<path d="M1365.8 222.3L1394.4 217.6L1400 239.5L1371.2 241.7Z" fill="#92979b" stroke="#9fb2bc" stroke-width="0.9" stroke-linejoin="round"/>
<path d="M1371.2 241.7L1400 239.5L1399 257L1371.9 259.5Z" fill="#8b8f93" stroke="#9fb2bc" stroke-width="0.9" stroke-linejoin="round"/>
<ellipse cx="1382.2" cy="229.9" rx="8.8" ry="5.7" fill="#3e444a" transform="rotate(-8 1382.2 229.9)"/>
<ellipse cx="1381.3" cy="230.6" rx="7.3" ry="4.3" fill="#f0b488" transform="rotate(-8 1381.3 230.6)"/>
<ellipse cx="1385.3" cy="249.3" rx="8.4" ry="6" fill="#a3b8c4" transform="rotate(-6 1385.3 249.3)"/>
<ellipse cx="1385.3" cy="248.7" rx="7.2" ry="4.7" fill="#e2573a" transform="rotate(-6 1385.3 248.7)"/>
<ellipse cx="1369.1" cy="242.3" rx="1.1" ry="5" fill="#e8e8f0" transform="rotate(-12 1369.1 242.3)"/>
<path d="M1385.4 288.8L1390.8 308.2L1391.5 326L1386.6 309.4Z" fill="#3a3f46"/>
<path d="M1385.4 288.8L1414 284.1L1419.6 306L1390.8 308.2Z" fill="#92979b" stroke="#9fb2bc" stroke-width="0.9" stroke-linejoin="round"/>
<path d="M1390.8 308.2L1419.6 306L1418.6 323.5L1391.5 326Z" fill="#8b8f93" stroke="#9fb2bc" stroke-width="0.9" stroke-linejoin="round"/>
<ellipse cx="1401.8" cy="296.4" rx="8.8" ry="5.7" fill="#3e444a" transform="rotate(-8 1401.8 296.4)"/>
<ellipse cx="1400.9" cy="297.1" rx="7.3" ry="4.3" fill="#f0b488" transform="rotate(-8 1400.9 297.1)"/>
<ellipse cx="1404.9" cy="315.8" rx="8.4" ry="6" fill="#a3b8c4" transform="rotate(-6 1404.9 315.8)"/>
<ellipse cx="1404.9" cy="315.2" rx="7.2" ry="4.7" fill="#e2573a" transform="rotate(-6 1404.9 315.2)"/>
<ellipse cx="1388.7" cy="308.8" rx="1.1" ry="5" fill="#e8e8f0" transform="rotate(-12 1388.7 308.8)"/>
<defs><linearGradient id="cg5" gradientUnits="userSpaceOnUse" x1="1475.4" y1="273" x2="1553.3" y2="277"><stop offset="0" stop-color="#4a4d52"/><stop offset="0.04" stop-color="#6c6e70"/><stop offset="0.1" stop-color="#828282"/><stop offset="0.3" stop-color="#8c8c8c"/><stop offset="0.5" stop-color="#949494"/><stop offset="0.75" stop-color="#8b8b8b"/><stop offset="0.9" stop-color="#7e7e7e"/><stop offset="0.96" stop-color="#626262"/><stop offset="1" stop-color="#303030"/></linearGradient></defs>
<path d="M1481.7 187.1L1475.4 273A36.2 32.6 0 0 0 1547.8 274L1553.3 187.1Z" fill="url(#cg5)"/>
<path d="M1482 191.1L1475.7 273" stroke="#20242a" stroke-width="1.3" fill="none" opacity="0.8"/>
<path d="M1553 193.1L1547.5 271" stroke="#20242a" stroke-width="1.3" fill="none" opacity="0.8"/>
<path d="M1492.6 253.8A35.8 27.6 0 0 0 1538.2 245.8" stroke="#a4a4a4" stroke-width="1.2" fill="none" opacity="0.7"/>
<path d="M1495.6 253.8L1493.4 297" stroke="#a0a0a0" stroke-width="1.2" fill="none" opacity="0.8"/>
<path d="M1547.3 237.1L1544.6 265" stroke="#dedede" stroke-width="1.6" fill="none"/>
<ellipse cx="1517.5" cy="187.1" rx="35.8" ry="27.6" fill="#b8b8b8" stroke="#6a7074" stroke-width="0.8" transform="rotate(-4 1517.5 187.1)"/>
<path d="M1487.7 201.6A35.8 27.6 -4 0 0 1550.3 198.1" stroke="#e6e6e6" stroke-width="2.4" fill="none" opacity="0.9" stroke-linecap="round"/>
<defs><linearGradient id="cb6" x1="0" x2="1" y1="0" y2="0"><stop offset="0" stop-color="#2f55c6"/><stop offset="0.1" stop-color="#5578c8"/><stop offset="0.25" stop-color="#8ea8cc"/><stop offset="0.38" stop-color="#c2ccc0"/><stop offset="0.5" stop-color="#f7f5b6"/><stop offset="0.62" stop-color="#f4d49a"/><stop offset="0.75" stop-color="#e7a882"/><stop offset="0.9" stop-color="#d06a50"/><stop offset="1" stop-color="#c0402f"/></linearGradient></defs>
<rect x="1363.5" y="48.3" width="362.8" height="23.5" fill="url(#cb6)" stroke="#50586a" stroke-width="0.8"/>
<path d="M1454.2 71.8v-7" stroke="#222" stroke-width="1.2"/>
<path d="M1544.9 71.8v-7" stroke="#222" stroke-width="1.2"/>
<path d="M1635.6 71.8v-7" stroke="#222" stroke-width="1.2"/>
<text x="1363.5" y="93.9" font-size="21" text-anchor="middle">-1.469</text>
<text x="1454.2" y="93.9" font-size="21" text-anchor="middle">-1.046</text>
<text x="1544.9" y="93.9" font-size="21" text-anchor="middle">-0.624</text>
<text x="1635.6" y="93.9" font-size="21" text-anchor="middle">-0.202</text>
<text x="1726.3" y="93.9" font-size="21" text-anchor="middle">0.221</text>
<text transform="translate(1793.6 418.2) scale(1 1.06)" font-size="29.5" text-anchor="end"><tspan class="i">P/L</tspan> = 2.0</text>
<defs>
<clipPath id="c22"><path d="M42.9 576.8L168.5 557L320 534L461.8 513.4L574.5 497.2L574.5 730.3L439.2 745.8L384.4 756.1L223.3 781.9L136.3 794.1L42.9 807.6Z"/></clipPath>
<linearGradient id="g23" gradientUnits="userSpaceOnUse" x1="42.9" y1="576.8" x2="574.5" y2="497.2"><stop offset="0" stop-color="#c68264"/><stop offset="1" stop-color="#c68264"/></linearGradient>
<linearGradient id="s24" gradientUnits="userSpaceOnUse" x1="42.9" y1="576.8" x2="574.5" y2="497.2"><stop offset="0" stop-color="#bd7c61"/><stop offset="0.58" stop-color="#b87a5d"/><stop offset="0.7" stop-color="#a85b49"/><stop offset="0.78" stop-color="#9f4236"/><stop offset="0.88" stop-color="#a44d3d"/><stop offset="1" stop-color="#b46c54"/></linearGradient>
</defs>
<path d="M42.9 806.6L136.3 793.1L223.3 780.9L384.4 755.1L439.2 744.8L574.5 729.3L574.5 744.2L439.2 764.5L352.2 776.4L223.3 795.7L42.9 822.5Z" fill="url(#s24)"/>
<path d="M42.9 576.8L168.5 557L320 534L461.8 513.4L574.5 497.2L574.5 730.3L439.2 745.8L384.4 756.1L223.3 781.9L136.3 794.1L42.9 807.6Z" fill="url(#g23)"/>
<g clip-path="url(#c22)">
<path d="M331.8 533.5L585.1 483.5L585.1 743.9L392.4 754.7L331.8 701.1Z" fill="#c66c56" opacity="0.85" filter="url(#b8)"/>
<path d="M331.8 537L446 515.6L460.2 608.4L428.1 661.9L456.7 726.1L392.4 751.1L331.8 701.1Z" fill="#c5654f" filter="url(#b11)"/>
<path d="M328.2 540.6L421 522.8L410.3 601.2L378.2 651.2L417.4 715.4L385.3 743.9L331.8 701.1Z" fill="#bc5442" opacity="0.9" filter="url(#b10)"/>
<ellipse cx="481.6" cy="743.9" rx="49.9" ry="12.5" fill="#b04838" opacity="0.85" transform="rotate(-9 481.6 743.9)" filter="url(#b5)"/>
<ellipse cx="535.1" cy="547.7" rx="46.4" ry="32.1" fill="#c68264" opacity="0.7" filter="url(#b10)"/>
<ellipse cx="224.8" cy="667.2" rx="53.5" ry="13.6" fill="#bc5442" opacity="0.75" filter="url(#b6)"/>
<ellipse cx="221.2" cy="615.5" rx="39.2" ry="10.7" fill="#bc5442" opacity="0.7" transform="rotate(-8 221.2 615.5)" filter="url(#b5)"/>
<ellipse cx="242.6" cy="711.8" rx="35.7" ry="10" fill="#bc5442" opacity="0.7" transform="rotate(-5 242.6 711.8)" filter="url(#b5)"/>
<path d="M349.6 647.6C362.7 647 402 643.5 428.1 644.1C454.3 644.7 493.5 650 506.6 651.2" fill="none" stroke="#cc7860" stroke-width="5" opacity="0.4" filter="url(#b3)" stroke-linecap="round"/>
<path d="M356.8 590.5C368.7 586.4 404.3 574.5 428.1 565.6C451.9 556.7 487.6 541.8 499.5 537" fill="none" stroke="#cc7860" stroke-width="5" opacity="0.4" filter="url(#b3)" stroke-linecap="round"/>
<path d="M356.8 686.9C368.7 691 404.3 705.3 428.1 711.8C451.9 718.4 487.6 723.7 499.5 726.1" fill="none" stroke="#cc7860" stroke-width="5" opacity="0.4" filter="url(#b3)" stroke-linecap="round"/>
<path d="M331.8 644.1L585.1 583.4L585.1 679.7Z" fill="#cc7c62" opacity="0.55" filter="url(#b8)"/>
<path d="M262.9 592L245.9 599L220.9 619L197.9 637L195.9 647L220.9 651L245.9 655L256.9 659L257.9 621Z" fill="#d2b088" opacity="0.9" filter="url(#b3_5)"/>
<path d="M262.9 595.8L247.1 602.3L223.8 620.9L202.4 637.7L200.6 647L223.8 650.7L247.1 654.4L257.3 658.1L258.2 622.8Z" fill="#e4dcaa" opacity="0.95" filter="url(#b2_5)"/>
<path d="M257.9 611L240.9 619L224.9 633L233.9 641L248.9 647L257.9 649Z" fill="#9ab4d6" opacity="0.95" filter="url(#b2_5)"/>
<path d="M258 613L242.4 620.4L227.7 633.2L236 640.6L249.8 646.1L258 648Z" fill="#2a5cc8" opacity="0.95" filter="url(#b2)"/>
<path d="M250.9 679L236.9 688L222.9 697L246.9 711L278.9 720L310.9 718L336.9 706L342.9 689L330.9 675L310.9 691L290.9 694L270.9 691Z" fill="#d2b088" opacity="0.9" filter="url(#b3_5)"/>
<path d="M253.3 679.4L240.1 687.9L227 696.3L249.5 709.5L279.6 718L309.7 716.1L334.1 704.8L339.8 688.8L328.5 675.7L309.7 690.7L290.9 693.5L272.1 690.7Z" fill="#e4dcaa" opacity="0.95" filter="url(#b2_5)"/>
<ellipse cx="287.9" cy="692" rx="35" ry="24" fill="#9ab4d6" opacity="0.95" transform="rotate(4 287.9 692)" filter="url(#b2_5)"/>
<ellipse cx="287.9" cy="691" rx="31" ry="21" fill="#2a5cc8" opacity="0.95" transform="rotate(4 287.9 691)" filter="url(#b2)"/>
<ellipse cx="134.1" cy="628.5" rx="13" ry="8" fill="#bc5442" opacity="0.85" transform="rotate(-10 134.1 628.5)" filter="url(#b3)"/>
<ellipse cx="189.1" cy="617.5" rx="18" ry="6" fill="#bc5442" opacity="0.765" transform="rotate(-8 189.1 617.5)" filter="url(#b2_5)"/>
<ellipse cx="191.1" cy="632.5" rx="18" ry="6" fill="#bc5442" opacity="0.68" transform="rotate(-5 191.1 632.5)" filter="url(#b2_5)"/>
<ellipse cx="127.1" cy="610.5" rx="14" ry="8" fill="#e0b890" opacity="0.8" filter="url(#b3)"/>
<ellipse cx="151.1" cy="643" rx="9" ry="3.2" fill="#f6f4c2" transform="rotate(-8 151.1 643)" filter="url(#b1_2)"/>
<ellipse cx="139.6" cy="619.5" rx="2.6" ry="4.2" fill="#f6f4c2" transform="rotate(-15 139.6 619.5)" filter="url(#b1)"/>
<ellipse cx="159.9" cy="719.1" rx="13" ry="8" fill="#bc5442" opacity="0.85" transform="rotate(-10 159.9 719.1)" filter="url(#b3)"/>
<ellipse cx="214.9" cy="708.1" rx="18" ry="6" fill="#bc5442" opacity="0.765" transform="rotate(-8 214.9 708.1)" filter="url(#b2_5)"/>
<ellipse cx="216.9" cy="723.1" rx="18" ry="6" fill="#bc5442" opacity="0.68" transform="rotate(-5 216.9 723.1)" filter="url(#b2_5)"/>
<ellipse cx="152.9" cy="701.1" rx="14" ry="8" fill="#e0b890" opacity="0.8" filter="url(#b3)"/>
<ellipse cx="176.9" cy="733.6" rx="9" ry="3.2" fill="#f6f4c2" transform="rotate(-8 176.9 733.6)" filter="url(#b1_2)"/>
<ellipse cx="165.4" cy="710.1" rx="2.6" ry="4.2" fill="#f6f4c2" transform="rotate(-15 165.4 710.1)" filter="url(#b1)"/>
<ellipse cx="244.4" cy="590.5" rx="14.3" ry="7.1" fill="#e0b890" opacity="0.8" filter="url(#b3)"/>
<ellipse cx="296.1" cy="735" rx="21.4" ry="7.8" fill="#e0b890" opacity="0.8" filter="url(#b3)"/>
<path d="M178.4 608.4C184.3 607.2 202.2 603 214.1 601.2C225.9 599.5 243.8 598.3 249.7 597.7" fill="none" stroke="#5a3024" stroke-width="0.9" opacity="0.6" filter="url(#b0_5)" stroke-linecap="round"/>
<path d="M167.7 656.5C173 656.4 189.1 656.1 199.8 655.5C210.5 654.9 226.5 653.4 231.9 653" fill="none" stroke="#5a3024" stroke-width="0.9" opacity="0.6" filter="url(#b0_5)" stroke-linecap="round"/>
<path d="M203.4 704.7C208.1 704.1 223 701.4 231.9 701.1C240.8 700.8 252.7 702.6 256.9 702.9" fill="none" stroke="#5a3024" stroke-width="0.9" opacity="0.6" filter="url(#b0_5)" stroke-linecap="round"/>
<path d="M442.4 537C446 538.2 457.8 541.2 463.8 544.2C469.7 547.1 475.7 553.1 478.1 554.9" fill="none" stroke="#5a3024" stroke-width="1.1" opacity="0.55" stroke-dasharray="2.2 2.6" filter="url(#b0_5)" stroke-linecap="round"/>
<path d="M417.4 644.1C425.1 644.4 448.9 644.9 463.8 645.8C478.7 646.7 499.5 648.8 506.6 649.4" fill="none" stroke="#5a3024" stroke-width="1.1" opacity="0.55" stroke-dasharray="2.2 2.6" filter="url(#b0_5)" stroke-linecap="round"/>
<path d="M485.2 679.7C488.8 680.3 500.7 681.5 506.6 683.3C512.5 685.1 518.5 689.2 520.9 690.4" fill="none" stroke="#5a3024" stroke-width="1.1" opacity="0.55" stroke-dasharray="2.2 2.6" filter="url(#b0_5)" stroke-linecap="round"/>
</g>
<path d="M42.9 576.8L168.5 557L320 534L461.8 513.4L574.5 497.2" fill="none" stroke="#d2502e" stroke-width="1.1" opacity="0.75"/><path d="M42.9 807.6L136.3 794.1L223.3 781.9L384.4 756.1L439.2 745.8L574.5 730.3" fill="none" stroke="#e09070" stroke-width="0.8" opacity="0.5"/><path d="M42.9 822L223.3 795.2L352.2 775.9L439.2 764L574.5 743.7" fill="none" stroke="#a0522e" stroke-width="1" opacity="0.6"/>
<path d="M141.5 602.5L146.9 621.9L147.6 639.7L142.7 623.1Z" fill="#3a3f46"/>
<path d="M141.5 602.5L170.1 597.8L175.7 619.7L146.9 621.9Z" fill="#92979b" stroke="#9fb2bc" stroke-width="0.9" stroke-linejoin="round"/>
<path d="M146.9 621.9L175.7 619.7L174.7 637.2L147.6 639.7Z" fill="#8b8f93" stroke="#9fb2bc" stroke-width="0.9" stroke-linejoin="round"/>
<ellipse cx="157.9" cy="610.1" rx="8.8" ry="5.7" fill="#3e444a" transform="rotate(-8 157.9 610.1)"/>
<ellipse cx="157" cy="610.8" rx="7.3" ry="4.3" fill="#f0b488" transform="rotate(-8 157 610.8)"/>
<ellipse cx="161" cy="629.5" rx="8.4" ry="6" fill="#a3b8c4" transform="rotate(-6 161 629.5)"/>
<ellipse cx="161" cy="628.9" rx="7.2" ry="4.7" fill="#e2573a" transform="rotate(-6 161 628.9)"/>
<ellipse cx="144.8" cy="622.5" rx="1.1" ry="5" fill="#e8e8f0" transform="rotate(-12 144.8 622.5)"/>
<path d="M167.3 693.1L172.7 712.5L173.4 730.3L168.5 713.7Z" fill="#3a3f46"/>
<path d="M167.3 693.1L195.9 688.4L201.5 710.3L172.7 712.5Z" fill="#92979b" stroke="#9fb2bc" stroke-width="0.9" stroke-linejoin="round"/>
<path d="M172.7 712.5L201.5 710.3L200.5 727.8L173.4 730.3Z" fill="#8b8f93" stroke="#9fb2bc" stroke-width="0.9" stroke-linejoin="round"/>
<ellipse cx="183.7" cy="700.7" rx="8.8" ry="5.7" fill="#3e444a" transform="rotate(-8 183.7 700.7)"/>
<ellipse cx="182.8" cy="701.4" rx="7.3" ry="4.3" fill="#f0b488" transform="rotate(-8 182.8 701.4)"/>
<ellipse cx="186.8" cy="720.1" rx="8.4" ry="6" fill="#a3b8c4" transform="rotate(-6 186.8 720.1)"/>
<ellipse cx="186.8" cy="719.5" rx="7.2" ry="4.7" fill="#e2573a" transform="rotate(-6 186.8 719.5)"/>
<ellipse cx="170.6" cy="713.1" rx="1.1" ry="5" fill="#e8e8f0" transform="rotate(-12 170.6 713.1)"/>
<defs><linearGradient id="cg7" gradientUnits="userSpaceOnUse" x1="254.9" y1="661" x2="332.6" y2="665"><stop offset="0" stop-color="#4a4d52"/><stop offset="0.04" stop-color="#6c6e70"/><stop offset="0.1" stop-color="#828282"/><stop offset="0.3" stop-color="#8c8c8c"/><stop offset="0.5" stop-color="#949494"/><stop offset="0.75" stop-color="#8b8b8b"/><stop offset="0.9" stop-color="#7e7e7e"/><stop offset="0.96" stop-color="#626262"/><stop offset="1" stop-color="#303030"/></linearGradient></defs>
<path d="M261 578.3L254.9 661A36 31.7 0 0 0 326.9 662L332.6 578.3Z" fill="url(#cg7)"/>
<path d="M261.3 582.3L255.2 661" stroke="#20242a" stroke-width="1.3" fill="none" opacity="0.8"/>
<path d="M332.3 584.3L326.6 659" stroke="#20242a" stroke-width="1.3" fill="none" opacity="0.8"/>
<path d="M271.9 643.3A35.8 27.6 0 0 0 317.5 635.3" stroke="#a4a4a4" stroke-width="1.2" fill="none" opacity="0.7"/>
<path d="M274.9 643.3L272.9 685" stroke="#a0a0a0" stroke-width="1.2" fill="none" opacity="0.8"/>
<path d="M326.6 628.3L323.7 653" stroke="#dedede" stroke-width="1.6" fill="none"/>
<ellipse cx="296.8" cy="578.3" rx="35.8" ry="27.6" fill="#b8b8b8" stroke="#6a7074" stroke-width="0.8" transform="rotate(-4 296.8 578.3)"/>
<path d="M267 592.8A35.8 27.6 -4 0 0 329.6 589.3" stroke="#e6e6e6" stroke-width="2.4" fill="none" opacity="0.9" stroke-linecap="round"/>
<defs><linearGradient id="cb8" x1="0" x2="1" y1="0" y2="0"><stop offset="0" stop-color="#2f55c6"/><stop offset="0.1" stop-color="#5578c8"/><stop offset="0.25" stop-color="#8ea8cc"/><stop offset="0.38" stop-color="#c2ccc0"/><stop offset="0.5" stop-color="#f7f5b6"/><stop offset="0.62" stop-color="#f4d49a"/><stop offset="0.75" stop-color="#e7a882"/><stop offset="0.9" stop-color="#d06a50"/><stop offset="1" stop-color="#c0402f"/></linearGradient></defs>
<rect x="129.2" y="451.4" width="363" height="23.5" fill="url(#cb8)" stroke="#50586a" stroke-width="0.8"/>
<path d="M219.9 474.9v-7" stroke="#222" stroke-width="1.2"/>
<path d="M310.7 474.9v-7" stroke="#222" stroke-width="1.2"/>
<path d="M401.4 474.9v-7" stroke="#222" stroke-width="1.2"/>
<text x="129.2" y="496.4" font-size="21" text-anchor="middle">-1.444</text>
<text x="219.9" y="496.4" font-size="21" text-anchor="middle">-1.029</text>
<text x="310.7" y="496.4" font-size="21" text-anchor="middle">-0.613</text>
<text x="401.4" y="496.4" font-size="21" text-anchor="middle">-0.197</text>
<text x="492.2" y="496.4" font-size="21" text-anchor="middle">0.218</text>
<text transform="translate(567 807.7) scale(1 1.06)" font-size="29.5" text-anchor="end"><tspan class="i">P/L</tspan> = 3.0</text>
<defs>
<clipPath id="c25"><path d="M653.3 576.8L778.9 557L930.4 534L1072.2 513.4L1184.9 497.2L1184.9 730.3L1049.6 745.8L994.8 756.1L833.7 781.9L746.7 794.1L653.3 807.6Z"/></clipPath>
<linearGradient id="g26" gradientUnits="userSpaceOnUse" x1="653.3" y1="576.8" x2="1184.9" y2="497.2"><stop offset="0" stop-color="#c68264"/><stop offset="1" stop-color="#c68264"/></linearGradient>
<linearGradient id="s27" gradientUnits="userSpaceOnUse" x1="653.3" y1="576.8" x2="1184.9" y2="497.2"><stop offset="0" stop-color="#bd7c61"/><stop offset="0.5" stop-color="#b87a5d"/><stop offset="0.58" stop-color="#ad6652"/><stop offset="0.66" stop-color="#b5775c"/><stop offset="0.74" stop-color="#a4523f"/><stop offset="0.8" stop-color="#9f4236"/><stop offset="0.88" stop-color="#a44d3d"/><stop offset="1" stop-color="#b46c54"/></linearGradient>
</defs>
<path d="M653.3 806.6L746.7 793.1L833.7 780.9L994.8 755.1L1049.6 744.8L1184.9 729.3L1184.9 744.2L1049.6 764.5L962.6 776.4L833.7 795.7L653.3 822.5Z" fill="url(#s27)"/>
<path d="M653.3 576.8L778.9 557L930.4 534L1072.2 513.4L1184.9 497.2L1184.9 730.3L1049.6 745.8L994.8 756.1L833.7 781.9L746.7 794.1L653.3 807.6Z" fill="url(#g26)"/>
<g clip-path="url(#c25)">
<path d="M942.5 533.5L1192.2 483.5L1192.2 743.9L1003.1 754.7L942.5 701.1Z" fill="#c66c56" opacity="0.85" filter="url(#b8)"/>
<path d="M942.5 537L1056.7 515.6L1070.9 608.4L1038.8 661.9L1067.4 726.1L1003.1 751.1L942.5 701.1Z" fill="#c5654f" filter="url(#b11)"/>
<path d="M938.9 540.6L1031.7 522.8L1021 601.2L988.9 651.2L1028.1 715.4L996 743.9L942.5 701.1Z" fill="#bc5442" opacity="0.9" filter="url(#b10)"/>
<ellipse cx="1088.8" cy="743.9" rx="49.9" ry="12.5" fill="#b04838" opacity="0.85" transform="rotate(-9 1088.8 743.9)" filter="url(#b5)"/>
<ellipse cx="828.3" cy="679.7" rx="49.9" ry="17.8" fill="#bc5442" opacity="0.75" filter="url(#b7)"/>
<ellipse cx="828.3" cy="601.2" rx="35.7" ry="10.7" fill="#bc5442" opacity="0.7" transform="rotate(-8 828.3 601.2)" filter="url(#b5)"/>
<ellipse cx="856.9" cy="726.1" rx="35.7" ry="10" fill="#bc5442" opacity="0.7" transform="rotate(-5 856.9 726.1)" filter="url(#b5)"/>
<path d="M956.8 647.6C970.4 647 1012.1 645.8 1038.8 644.1C1065.6 642.3 1104.2 638.1 1117.3 636.9" fill="none" stroke="#cc7860" stroke-width="5" opacity="0.4" filter="url(#b3)" stroke-linecap="round"/>
<path d="M963.9 590.5C975.8 586.4 1011.5 574.5 1035.2 565.6C1059 556.7 1094.7 541.8 1106.6 537" fill="none" stroke="#cc7860" stroke-width="5" opacity="0.4" filter="url(#b3)" stroke-linecap="round"/>
<path d="M963.9 686.9C975.8 691 1011.5 705.3 1035.2 711.8C1059 718.4 1094.7 723.7 1106.6 726.1" fill="none" stroke="#cc7860" stroke-width="5" opacity="0.4" filter="url(#b3)" stroke-linecap="round"/>
<path d="M942.5 644.1L1192.2 583.4L1192.2 679.7Z" fill="#cc7c62" opacity="0.55" filter="url(#b8)"/>
<path d="M873.4 592.1L854 596.7L826.6 614.3L802.4 631.1L800.4 641.1L827.2 648.1L856.4 655.1L867.4 659.1L868.4 621.1Z" fill="#d2b088" opacity="0.9" filter="url(#b3_5)"/>
<path d="M873.4 595.9L855.3 600.2L829.8 616.6L807.3 632.2L805.5 641.5L830.4 648L857.5 654.5L867.8 658.2L868.7 622.9Z" fill="#e4dcaa" opacity="0.95" filter="url(#b2_5)"/>
<path d="M868.4 611.1L849.6 617.3L832.4 630.1L842.6 639.9L859.4 647.1L868.4 649.1Z" fill="#9ab4d6" opacity="0.95" filter="url(#b2_5)"/>
<path d="M868.5 613.1L851.2 618.8L835.4 630.6L844.8 639.6L860.3 646.2L868.5 648.1Z" fill="#2a5cc8" opacity="0.95" filter="url(#b2)"/>
<path d="M861.4 679.1L845.4 690.1L829.4 701.1L855.4 713.1L889.4 720.1L921.4 718.1L947.4 706.1L953.4 689.1L941.4 675.1L921.4 691.1L901.4 694.1L881.4 691.1Z" fill="#d2b088" opacity="0.9" filter="url(#b3_5)"/>
<path d="M863.8 679.5L848.8 689.9L833.7 700.2L858.2 711.5L890.1 718.1L920.2 716.2L944.6 704.9L950.3 688.9L939 675.8L920.2 690.8L901.4 693.6L882.6 690.8Z" fill="#e4dcaa" opacity="0.95" filter="url(#b2_5)"/>
<ellipse cx="898.4" cy="692.1" rx="35" ry="24" fill="#9ab4d6" opacity="0.95" transform="rotate(4 898.4 692.1)" filter="url(#b2_5)"/>
<ellipse cx="898.4" cy="691.1" rx="31" ry="21" fill="#2a5cc8" opacity="0.95" transform="rotate(4 898.4 691.1)" filter="url(#b2)"/>
<ellipse cx="741.6" cy="616.8" rx="13" ry="8" fill="#bc5442" opacity="0.85" transform="rotate(-10 741.6 616.8)" filter="url(#b3)"/>
<ellipse cx="796.6" cy="605.8" rx="18" ry="6" fill="#bc5442" opacity="0.765" transform="rotate(-8 796.6 605.8)" filter="url(#b2_5)"/>
<ellipse cx="798.6" cy="620.8" rx="18" ry="6" fill="#bc5442" opacity="0.68" transform="rotate(-5 798.6 620.8)" filter="url(#b2_5)"/>
<ellipse cx="734.6" cy="598.8" rx="14" ry="8" fill="#e0b890" opacity="0.8" filter="url(#b3)"/>
<ellipse cx="758.6" cy="631.3" rx="9" ry="3.2" fill="#f6f4c2" transform="rotate(-8 758.6 631.3)" filter="url(#b1_2)"/>
<ellipse cx="747.1" cy="607.8" rx="2.6" ry="4.2" fill="#f6f4c2" transform="rotate(-15 747.1 607.8)" filter="url(#b1)"/>
<ellipse cx="773.9" cy="729.6" rx="13" ry="8" fill="#bc5442" opacity="0.85" transform="rotate(-10 773.9 729.6)" filter="url(#b3)"/>
<ellipse cx="828.9" cy="718.6" rx="18" ry="6" fill="#bc5442" opacity="0.765" transform="rotate(-8 828.9 718.6)" filter="url(#b2_5)"/>
<ellipse cx="830.9" cy="733.6" rx="18" ry="6" fill="#bc5442" opacity="0.68" transform="rotate(-5 830.9 733.6)" filter="url(#b2_5)"/>
<ellipse cx="766.9" cy="711.6" rx="14" ry="8" fill="#e0b890" opacity="0.8" filter="url(#b3)"/>
<ellipse cx="790.9" cy="744.1" rx="9" ry="3.2" fill="#f6f4c2" transform="rotate(-8 790.9 744.1)" filter="url(#b1_2)"/>
<ellipse cx="779.4" cy="720.6" rx="2.6" ry="4.2" fill="#f6f4c2" transform="rotate(-15 779.4 720.6)" filter="url(#b1)"/>
<path d="M785.5 590.5C791.5 589.9 810.5 587.3 821.2 587C831.9 586.7 845 588.5 849.7 588.8" fill="none" stroke="#5a3024" stroke-width="0.9" opacity="0.6" filter="url(#b0_5)" stroke-linecap="round"/>
<path d="M778.4 658.3C784.3 657.9 802.2 656.4 814.1 655.5C825.9 654.6 843.8 653.4 849.7 653" fill="none" stroke="#5a3024" stroke-width="0.9" opacity="0.6" filter="url(#b0_5)" stroke-linecap="round"/>
<path d="M817.6 719C822.4 718.4 837.2 715.4 846.2 715.4C855.1 715.4 867 718.4 871.1 719" fill="none" stroke="#5a3024" stroke-width="0.9" opacity="0.6" filter="url(#b0_5)" stroke-linecap="round"/>
<path d="M1053.1 547.7C1057.2 548.9 1070.3 551.3 1078.1 554.9C1085.8 558.4 1095.9 566.8 1099.5 569.1" fill="none" stroke="#5a3024" stroke-width="1.1" opacity="0.55" stroke-dasharray="2.2 2.6" filter="url(#b0_5)" stroke-linecap="round"/>
<path d="M1028.1 636.9C1035.2 636.3 1056.7 634.5 1070.9 633.4C1085.2 632.2 1106.6 630.4 1113.7 629.8" fill="none" stroke="#5a3024" stroke-width="1.1" opacity="0.55" stroke-dasharray="2.2 2.6" filter="url(#b0_5)" stroke-linecap="round"/>
<path d="M1056.7 694C1063.8 692.8 1086.4 687.5 1099.5 686.9C1112.5 686.3 1129.2 689.8 1135.1 690.4" fill="none" stroke="#5a3024" stroke-width="1.1" opacity="0.55" stroke-dasharray="2.2 2.6" filter="url(#b0_5)" stroke-linecap="round"/>
</g>
<path d="M653.3 576.8L778.9 557L930.4 534L1072.2 513.4L1184.9 497.2" fill="none" stroke="#d2502e" stroke-width="1.1" opacity="0.75"/><path d="M653.3 807.6L746.7 794.1L833.7 781.9L994.8 756.1L1049.6 745.8L1184.9 730.3" fill="none" stroke="#e09070" stroke-width="0.8" opacity="0.5"/><path d="M653.3 822L833.7 795.2L962.6 775.9L1049.6 764L1184.9 743.7" fill="none" stroke="#a0522e" stroke-width="1" opacity="0.6"/>
<path d="M749 590.8L754.4 610.2L755.1 628L750.2 611.4Z" fill="#3a3f46"/>
<path d="M749 590.8L777.6 586.1L783.2 608L754.4 610.2Z" fill="#92979b" stroke="#9fb2bc" stroke-width="0.9" stroke-linejoin="round"/>
<path d="M754.4 610.2L783.2 608L782.2 625.5L755.1 628Z" fill="#8b8f93" stroke="#9fb2bc" stroke-width="0.9" stroke-linejoin="round"/>
<ellipse cx="765.4" cy="598.4" rx="8.8" ry="5.7" fill="#3e444a" transform="rotate(-8 765.4 598.4)"/>
<ellipse cx="764.5" cy="599.1" rx="7.3" ry="4.3" fill="#f0b488" transform="rotate(-8 764.5 599.1)"/>
<ellipse cx="768.5" cy="617.8" rx="8.4" ry="6" fill="#a3b8c4" transform="rotate(-6 768.5 617.8)"/>
<ellipse cx="768.5" cy="617.2" rx="7.2" ry="4.7" fill="#e2573a" transform="rotate(-6 768.5 617.2)"/>
<ellipse cx="752.3" cy="610.8" rx="1.1" ry="5" fill="#e8e8f0" transform="rotate(-12 752.3 610.8)"/>
<path d="M781.3 703.6L786.7 723L787.4 740.8L782.5 724.2Z" fill="#3a3f46"/>
<path d="M781.3 703.6L809.9 698.9L815.5 720.8L786.7 723Z" fill="#92979b" stroke="#9fb2bc" stroke-width="0.9" stroke-linejoin="round"/>
<path d="M786.7 723L815.5 720.8L814.5 738.3L787.4 740.8Z" fill="#8b8f93" stroke="#9fb2bc" stroke-width="0.9" stroke-linejoin="round"/>
<ellipse cx="797.7" cy="711.2" rx="8.8" ry="5.7" fill="#3e444a" transform="rotate(-8 797.7 711.2)"/>
<ellipse cx="796.8" cy="711.9" rx="7.3" ry="4.3" fill="#f0b488" transform="rotate(-8 796.8 711.9)"/>
<ellipse cx="800.8" cy="730.6" rx="8.4" ry="6" fill="#a3b8c4" transform="rotate(-6 800.8 730.6)"/>
<ellipse cx="800.8" cy="730" rx="7.2" ry="4.7" fill="#e2573a" transform="rotate(-6 800.8 730)"/>
<ellipse cx="784.6" cy="723.6" rx="1.1" ry="5" fill="#e8e8f0" transform="rotate(-12 784.6 723.6)"/>
<defs><linearGradient id="cg9" gradientUnits="userSpaceOnUse" x1="865.4" y1="661.1" x2="943.1" y2="665.1"><stop offset="0" stop-color="#4a4d52"/><stop offset="0.04" stop-color="#6c6e70"/><stop offset="0.1" stop-color="#828282"/><stop offset="0.3" stop-color="#8c8c8c"/><stop offset="0.5" stop-color="#949494"/><stop offset="0.75" stop-color="#8b8b8b"/><stop offset="0.9" stop-color="#7e7e7e"/><stop offset="0.96" stop-color="#626262"/><stop offset="1" stop-color="#303030"/></linearGradient></defs>
<path d="M871.5 578.4L865.4 661.1A36 31.7 0 0 0 937.4 662.1L943.1 578.4Z" fill="url(#cg9)"/>
<path d="M871.8 582.4L865.7 661.1" stroke="#20242a" stroke-width="1.3" fill="none" opacity="0.8"/>
<path d="M942.8 584.4L937.1 659.1" stroke="#20242a" stroke-width="1.3" fill="none" opacity="0.8"/>
<path d="M882.4 643.4A35.8 27.6 0 0 0 928 635.4" stroke="#a4a4a4" stroke-width="1.2" fill="none" opacity="0.7"/>
<path d="M885.4 643.4L883.4 685.1" stroke="#a0a0a0" stroke-width="1.2" fill="none" opacity="0.8"/>
<path d="M937.1 628.4L934.2 653.1" stroke="#dedede" stroke-width="1.6" fill="none"/>
<ellipse cx="907.3" cy="578.4" rx="35.8" ry="27.6" fill="#b8b8b8" stroke="#6a7074" stroke-width="0.8" transform="rotate(-4 907.3 578.4)"/>
<path d="M877.5 592.9A35.8 27.6 -4 0 0 940.1 589.4" stroke="#e6e6e6" stroke-width="2.4" fill="none" opacity="0.9" stroke-linecap="round"/>
<defs><linearGradient id="cb10" x1="0" x2="1" y1="0" y2="0"><stop offset="0" stop-color="#2f55c6"/><stop offset="0.1" stop-color="#5578c8"/><stop offset="0.25" stop-color="#8ea8cc"/><stop offset="0.38" stop-color="#c2ccc0"/><stop offset="0.5" stop-color="#f7f5b6"/><stop offset="0.62" stop-color="#f4d49a"/><stop offset="0.75" stop-color="#e7a882"/><stop offset="0.9" stop-color="#d06a50"/><stop offset="1" stop-color="#c0402f"/></linearGradient></defs>
<rect x="751.8" y="451.4" width="362" height="23.5" fill="url(#cb10)" stroke="#50586a" stroke-width="0.8"/>
<path d="M842.3 474.9v-7" stroke="#222" stroke-width="1.2"/>
<path d="M932.8 474.9v-7" stroke="#222" stroke-width="1.2"/>
<path d="M1023.3 474.9v-7" stroke="#222" stroke-width="1.2"/>
<text x="751.8" y="496.4" font-size="21" text-anchor="middle">-1.322</text>
<text x="842.3" y="496.4" font-size="21" text-anchor="middle">-0.940</text>
<text x="932.8" y="496.4" font-size="21" text-anchor="middle">-0.558</text>
<text x="1023.3" y="496.4" font-size="21" text-anchor="middle">-0.176</text>
<text x="1113.8" y="496.4" font-size="21" text-anchor="middle">0.206</text>
<text transform="translate(1178.5 807.7) scale(1 1.06)" font-size="29.5" text-anchor="end"><tspan class="i">P/L</tspan> = 4.0</text>
<defs>
<clipPath id="c28"><path d="M1263.3 576.8L1388.9 557L1540.4 534L1682.2 513.4L1794.9 497.2L1794.9 730.3L1659.6 745.8L1604.8 756.1L1443.7 781.9L1356.7 794.1L1263.3 807.6Z"/></clipPath>
<linearGradient id="g29" gradientUnits="userSpaceOnUse" x1="1263.3" y1="576.8" x2="1794.9" y2="497.2"><stop offset="0" stop-color="#c68264"/><stop offset="1" stop-color="#c68264"/></linearGradient>
<linearGradient id="s30" gradientUnits="userSpaceOnUse" x1="1263.3" y1="576.8" x2="1794.9" y2="497.2"><stop offset="0" stop-color="#bd7c61"/><stop offset="0.58" stop-color="#b87a5d"/><stop offset="0.7" stop-color="#a85b49"/><stop offset="0.78" stop-color="#9f4236"/><stop offset="0.9" stop-color="#a44d3d"/><stop offset="1" stop-color="#b8765b"/></linearGradient>
</defs>
<path d="M1263.3 806.6L1356.7 793.1L1443.7 780.9L1604.8 755.1L1659.6 744.8L1794.9 729.3L1794.9 744.2L1659.6 764.5L1572.6 776.4L1443.7 795.7L1263.3 822.5Z" fill="url(#s30)"/>
<path d="M1263.3 576.8L1388.9 557L1540.4 534L1682.2 513.4L1794.9 497.2L1794.9 730.3L1659.6 745.8L1604.8 756.1L1443.7 781.9L1356.7 794.1L1263.3 807.6Z" fill="url(#g29)"/>
<g clip-path="url(#c28)">
<path d="M1548.1 534.4L1694.3 499.6L1708.2 743.3L1600.3 753.7L1548.1 701.5Z" fill="#c5654f" filter="url(#b11)"/>
<path d="M1544.6 537.9L1638.6 517L1628.2 600.6L1593.4 649.3L1635.1 715.4L1600.3 743.3L1548.1 701.5Z" fill="#bc5442" opacity="0.9" filter="url(#b10)"/>
<path d="M1680.4 499.6L1743 492.7L1743 743.3L1687.3 743.3Z" fill="#c66c56" opacity="0.8" filter="url(#b10)"/>
<ellipse cx="1704.8" cy="745" rx="48.7" ry="12.2" fill="#b04838" opacity="0.85" transform="rotate(-9 1704.8 745)" filter="url(#b5)"/>
<ellipse cx="1429.7" cy="673.7" rx="48.7" ry="20.9" fill="#bc5442" opacity="0.75" filter="url(#b7)"/>
<ellipse cx="1436.7" cy="579.7" rx="38.3" ry="15.7" fill="#bc5442" opacity="0.7" transform="rotate(-8 1436.7 579.7)" filter="url(#b6)"/>
<ellipse cx="1464.6" cy="736.3" rx="34.8" ry="10.4" fill="#bc5442" opacity="0.7" transform="rotate(-5 1464.6 736.3)" filter="url(#b5)"/>
<path d="M1565.5 642.3C1578.9 641.8 1619.5 640.6 1645.6 638.9C1671.7 637.1 1709.4 633.1 1722.2 631.9" fill="none" stroke="#cc7860" stroke-width="5" opacity="0.4" filter="url(#b3)" stroke-linecap="round"/>
<path d="M1565.5 586.6C1577.1 582.6 1611.9 571 1635.1 562.3C1658.3 553.6 1693.1 539.1 1704.8 534.4" fill="none" stroke="#cc7860" stroke-width="5" opacity="0.4" filter="url(#b3)" stroke-linecap="round"/>
<path d="M1565.5 687.6C1577.1 691.1 1611.9 702.7 1635.1 708.5C1658.3 714.3 1693.1 720.1 1704.8 722.4" fill="none" stroke="#cc7860" stroke-width="5" opacity="0.4" filter="url(#b3)" stroke-linecap="round"/>
<path d="M1548.1 642.3L1802.2 593.6L1802.2 680.6Z" fill="#cc7c62" opacity="0.6" filter="url(#b8)"/>
<path d="M1483.4 592.1L1462.4 595.1L1433.4 611.1L1408.4 627.1L1406.4 637.1L1434.4 646.1L1466.4 655.1L1477.4 659.1L1478.4 621.1Z" fill="#d2b088" opacity="0.9" filter="url(#b3_5)"/>
<path d="M1483.4 595.9L1463.8 598.7L1436.9 613.6L1413.6 628.5L1411.7 637.8L1437.8 646.1L1467.5 654.5L1477.8 658.2L1478.7 622.9Z" fill="#e4dcaa" opacity="0.95" filter="url(#b2_5)"/>
<path d="M1478.4 611.1L1458.4 616.1L1440.4 628.1L1451.4 639.1L1469.4 647.1L1478.4 649.1Z" fill="#9ab4d6" opacity="0.57" filter="url(#b2_5)"/>
<path d="M1478.5 613.1L1460.1 617.7L1443.6 628.7L1453.7 638.9L1470.3 646.2L1478.5 648.1Z" fill="#2a5cc8" opacity="0.57" filter="url(#b2)"/>
<path d="M1471.4 679.1L1453.4 692.1L1435.4 705.1L1463.4 715.1L1499.4 720.1L1531.4 718.1L1557.4 706.1L1563.4 689.1L1551.4 675.1L1531.4 691.1L1511.4 694.1L1491.4 691.1Z" fill="#d2b088" opacity="0.9" filter="url(#b3_5)"/>
<path d="M1473.8 679.5L1456.9 691.7L1440 704L1466.3 713.4L1500.1 718.1L1530.2 716.2L1554.6 704.9L1560.3 688.9L1549 675.8L1530.2 690.8L1511.4 693.6L1492.6 690.8Z" fill="#e4dcaa" opacity="0.95" filter="url(#b2_5)"/>
<ellipse cx="1508.4" cy="692.1" rx="35" ry="24" fill="#9ab4d6" opacity="0.6649999999999999" transform="rotate(4 1508.4 692.1)" filter="url(#b2_5)"/>
<ellipse cx="1508.4" cy="691.1" rx="31" ry="21" fill="#2a5cc8" opacity="0.6649999999999999" transform="rotate(4 1508.4 691.1)" filter="url(#b2)"/>
<ellipse cx="1348.6" cy="605.6" rx="13" ry="8" fill="#bc5442" opacity="0.85" transform="rotate(-10 1348.6 605.6)" filter="url(#b3)"/>
<ellipse cx="1403.6" cy="594.6" rx="18" ry="6" fill="#bc5442" opacity="0.765" transform="rotate(-8 1403.6 594.6)" filter="url(#b2_5)"/>
<ellipse cx="1405.6" cy="609.6" rx="18" ry="6" fill="#bc5442" opacity="0.68" transform="rotate(-5 1405.6 609.6)" filter="url(#b2_5)"/>
<ellipse cx="1341.6" cy="587.6" rx="14" ry="8" fill="#e0b890" opacity="0.8" filter="url(#b3)"/>
<ellipse cx="1365.6" cy="620.1" rx="9" ry="3.2" fill="#f6f4c2" transform="rotate(-8 1365.6 620.1)" filter="url(#b1_2)"/>
<ellipse cx="1354.1" cy="596.6" rx="2.6" ry="4.2" fill="#f6f4c2" transform="rotate(-15 1354.1 596.6)" filter="url(#b1)"/>
<ellipse cx="1387.8" cy="741" rx="13" ry="8" fill="#bc5442" opacity="0.85" transform="rotate(-10 1387.8 741)" filter="url(#b3)"/>
<ellipse cx="1442.8" cy="730" rx="18" ry="6" fill="#bc5442" opacity="0.765" transform="rotate(-8 1442.8 730)" filter="url(#b2_5)"/>
<ellipse cx="1444.8" cy="745" rx="18" ry="6" fill="#bc5442" opacity="0.68" transform="rotate(-5 1444.8 745)" filter="url(#b2_5)"/>
<ellipse cx="1380.8" cy="723" rx="14" ry="8" fill="#e0b890" opacity="0.8" filter="url(#b3)"/>
<ellipse cx="1404.8" cy="755.5" rx="9" ry="3.2" fill="#f6f4c2" transform="rotate(-8 1404.8 755.5)" filter="url(#b1_2)"/>
<ellipse cx="1393.3" cy="732" rx="2.6" ry="4.2" fill="#f6f4c2" transform="rotate(-15 1393.3 732)" filter="url(#b1)"/>
<ellipse cx="1342.7" cy="586.6" rx="20.9" ry="10.4" fill="#e0b890" opacity="0.85" filter="url(#b4)"/>
<ellipse cx="1388" cy="760.7" rx="20.9" ry="8.7" fill="#e0b890" opacity="0.85" filter="url(#b4)"/>
<path d="M1422.8 569.2C1426.3 570.4 1436.7 573.9 1443.7 576.2C1450.6 578.5 1461.1 582 1464.6 583.2" fill="none" stroke="#5a3024" stroke-width="0.9" opacity="0.6" filter="url(#b0_5)" stroke-linecap="round"/>
<path d="M1388 652.8C1393.8 652.2 1411.2 650.2 1422.8 649.3C1434.4 648.4 1451.8 647.9 1457.6 647.6" fill="none" stroke="#5a3024" stroke-width="0.9" opacity="0.6" filter="url(#b0_5)" stroke-linecap="round"/>
<path d="M1422.8 736.3C1427.4 735.8 1441.4 732.9 1450.6 732.9C1459.9 732.9 1473.8 735.8 1478.5 736.3" fill="none" stroke="#5a3024" stroke-width="0.9" opacity="0.6" filter="url(#b0_5)" stroke-linecap="round"/>
<path d="M1649.1 569.2C1655.4 568.1 1675.2 561.1 1687.3 562.3C1699.5 563.4 1716.4 573.9 1722.2 576.2" fill="none" stroke="#5a3024" stroke-width="1.1" opacity="0.55" stroke-dasharray="2.2 2.6" filter="url(#b0_5)" stroke-linecap="round"/>
<path d="M1659.5 631.9C1666.5 630.7 1687.3 624.9 1701.3 624.9C1715.2 624.9 1736.1 630.7 1743 631.9" fill="none" stroke="#5a3024" stroke-width="1.1" opacity="0.55" stroke-dasharray="2.2 2.6" filter="url(#b0_5)" stroke-linecap="round"/>
<path d="M1652.5 705C1659.5 703.8 1680.4 698.6 1694.3 698C1708.2 697.5 1729.1 700.9 1736.1 701.5" fill="none" stroke="#5a3024" stroke-width="1.1" opacity="0.55" stroke-dasharray="2.2 2.6" filter="url(#b0_5)" stroke-linecap="round"/>
</g>
<path d="M1263.3 576.8L1388.9 557L1540.4 534L1682.2 513.4L1794.9 497.2" fill="none" stroke="#d2502e" stroke-width="1.1" opacity="0.75"/><path d="M1263.3 807.6L1356.7 794.1L1443.7 781.9L1604.8 756.1L1659.6 745.8L1794.9 730.3" fill="none" stroke="#e09070" stroke-width="0.8" opacity="0.5"/><path d="M1263.3 822L1443.7 795.2L1572.6 775.9L1659.6 764L1794.9 743.7" fill="none" stroke="#a0522e" stroke-width="1" opacity="0.6"/>
<path d="M1356 579.6L1361.4 599L1362.1 616.8L1357.2 600.2Z" fill="#3a3f46"/>
<path d="M1356 579.6L1384.6 574.9L1390.2 596.8L1361.4 599Z" fill="#92979b" stroke="#9fb2bc" stroke-width="0.9" stroke-linejoin="round"/>
<path d="M1361.4 599L1390.2 596.8L1389.2 614.3L1362.1 616.8Z" fill="#8b8f93" stroke="#9fb2bc" stroke-width="0.9" stroke-linejoin="round"/>
<ellipse cx="1372.4" cy="587.2" rx="8.8" ry="5.7" fill="#3e444a" transform="rotate(-8 1372.4 587.2)"/>
<ellipse cx="1371.5" cy="587.9" rx="7.3" ry="4.3" fill="#f0b488" transform="rotate(-8 1371.5 587.9)"/>
<ellipse cx="1375.5" cy="606.6" rx="8.4" ry="6" fill="#a3b8c4" transform="rotate(-6 1375.5 606.6)"/>
<ellipse cx="1375.5" cy="606" rx="7.2" ry="4.7" fill="#e2573a" transform="rotate(-6 1375.5 606)"/>
<ellipse cx="1359.3" cy="599.6" rx="1.1" ry="5" fill="#e8e8f0" transform="rotate(-12 1359.3 599.6)"/>
<path d="M1395.2 715L1400.6 734.4L1401.3 752.2L1396.4 735.6Z" fill="#3a3f46"/>
<path d="M1395.2 715L1423.8 710.3L1429.4 732.2L1400.6 734.4Z" fill="#92979b" stroke="#9fb2bc" stroke-width="0.9" stroke-linejoin="round"/>
<path d="M1400.6 734.4L1429.4 732.2L1428.4 749.7L1401.3 752.2Z" fill="#8b8f93" stroke="#9fb2bc" stroke-width="0.9" stroke-linejoin="round"/>
<ellipse cx="1411.6" cy="722.6" rx="8.8" ry="5.7" fill="#3e444a" transform="rotate(-8 1411.6 722.6)"/>
<ellipse cx="1410.7" cy="723.3" rx="7.3" ry="4.3" fill="#f0b488" transform="rotate(-8 1410.7 723.3)"/>
<ellipse cx="1414.7" cy="742" rx="8.4" ry="6" fill="#a3b8c4" transform="rotate(-6 1414.7 742)"/>
<ellipse cx="1414.7" cy="741.4" rx="7.2" ry="4.7" fill="#e2573a" transform="rotate(-6 1414.7 741.4)"/>
<ellipse cx="1398.5" cy="735" rx="1.1" ry="5" fill="#e8e8f0" transform="rotate(-12 1398.5 735)"/>
<defs><linearGradient id="cg11" gradientUnits="userSpaceOnUse" x1="1475.4" y1="661.1" x2="1553.1" y2="665.1"><stop offset="0" stop-color="#4a4d52"/><stop offset="0.04" stop-color="#6c6e70"/><stop offset="0.1" stop-color="#828282"/><stop offset="0.3" stop-color="#8c8c8c"/><stop offset="0.5" stop-color="#949494"/><stop offset="0.75" stop-color="#8b8b8b"/><stop offset="0.9" stop-color="#7e7e7e"/><stop offset="0.96" stop-color="#626262"/><stop offset="1" stop-color="#303030"/></linearGradient></defs>
<path d="M1481.5 578.4L1475.4 661.1A36 31.7 0 0 0 1547.4 662.1L1553.1 578.4Z" fill="url(#cg11)"/>
<path d="M1481.8 582.4L1475.7 661.1" stroke="#20242a" stroke-width="1.3" fill="none" opacity="0.8"/>
<path d="M1552.8 584.4L1547.1 659.1" stroke="#20242a" stroke-width="1.3" fill="none" opacity="0.8"/>
<path d="M1492.4 643.4A35.8 27.6 0 0 0 1538 635.4" stroke="#a4a4a4" stroke-width="1.2" fill="none" opacity="0.7"/>
<path d="M1495.4 643.4L1493.4 685.1" stroke="#a0a0a0" stroke-width="1.2" fill="none" opacity="0.8"/>
<path d="M1547.1 628.4L1544.2 653.1" stroke="#dedede" stroke-width="1.6" fill="none"/>
<ellipse cx="1517.3" cy="578.4" rx="35.8" ry="27.6" fill="#b8b8b8" stroke="#6a7074" stroke-width="0.8" transform="rotate(-4 1517.3 578.4)"/>
<path d="M1487.5 592.9A35.8 27.6 -4 0 0 1550.1 589.4" stroke="#e6e6e6" stroke-width="2.4" fill="none" opacity="0.9" stroke-linecap="round"/>
<defs><linearGradient id="cb12" x1="0" x2="1" y1="0" y2="0"><stop offset="0" stop-color="#2f55c6"/><stop offset="0.1" stop-color="#5578c8"/><stop offset="0.25" stop-color="#8ea8cc"/><stop offset="0.38" stop-color="#c2ccc0"/><stop offset="0.5" stop-color="#f7f5b6"/><stop offset="0.62" stop-color="#f4d49a"/><stop offset="0.75" stop-color="#e7a882"/><stop offset="0.9" stop-color="#d06a50"/><stop offset="1" stop-color="#c0402f"/></linearGradient></defs>
<rect x="1363.5" y="451.4" width="362.8" height="23.5" fill="url(#cb12)" stroke="#50586a" stroke-width="0.8"/>
<path d="M1454.2 474.9v-7" stroke="#222" stroke-width="1.2"/>
<path d="M1544.9 474.9v-7" stroke="#222" stroke-width="1.2"/>
<path d="M1635.6 474.9v-7" stroke="#222" stroke-width="1.2"/>
<text x="1363.5" y="496.4" font-size="21" text-anchor="middle">-1.297</text>
<text x="1454.2" y="496.4" font-size="21" text-anchor="middle">-0.918</text>
<text x="1544.9" y="496.4" font-size="21" text-anchor="middle">-0.538</text>
<text x="1635.6" y="496.4" font-size="21" text-anchor="middle">-0.159</text>
<text x="1726.3" y="496.4" font-size="21" text-anchor="middle">0.221</text>
<text transform="translate(1793.6 807.7) scale(1 1.06)" font-size="29.5" text-anchor="end"><tspan class="i">P/L</tspan> = 5.0</text><text class="pl" transform="translate(-0.3 945.2) scale(1 1.04)">B</text>
<path d="M221.5 984V1424.7M313.3 984V1424.7M405.1 984V1424.7M497 984V1424.7M588.8 984V1424.7M680.6 984V1424.7M772.4 984V1424.7M129.7 1336.6H772.4M129.7 1248.4H772.4M129.7 1160.3H772.4M129.7 1072.1H772.4M129.7 984H772.4" stroke="#5a5a5a" stroke-width="1.6" fill="none"/>
<path d="M129.7 1424.7v-6.5M221.5 1424.7v-6.5M313.3 1424.7v-6.5M405.1 1424.7v-6.5M497 1424.7v-6.5M588.8 1424.7v-6.5M680.6 1424.7v-6.5M772.4 1424.7v-6.5M129.7 1424.7h6.5M129.7 1336.6h6.5M129.7 1248.4h6.5M129.7 1160.3h6.5M129.7 1072.1h6.5M129.7 984h6.5" stroke="#111" stroke-width="1.8" fill="none"/>
<path d="M129.7 983V1424.7H773.4" stroke="#0a0a0a" stroke-width="2.4" fill="none" stroke-linejoin="miter"/>
<text transform="translate(129.7 1457.7) scale(1 1.07)" font-size="24" text-anchor="middle">0</text>
<text transform="translate(221.5 1457.7) scale(1 1.07)" font-size="24" text-anchor="middle">1000</text>
<text transform="translate(313.3 1457.7) scale(1 1.07)" font-size="24" text-anchor="middle">2000</text>
<text transform="translate(405.1 1457.7) scale(1 1.07)" font-size="24" text-anchor="middle">3000</text>
<text transform="translate(497 1457.7) scale(1 1.07)" font-size="24" text-anchor="middle">4000</text>
<text transform="translate(588.8 1457.7) scale(1 1.07)" font-size="24" text-anchor="middle">5000</text>
<text transform="translate(680.6 1457.7) scale(1 1.07)" font-size="24" text-anchor="middle">6000</text>
<text transform="translate(772.4 1457.7) scale(1 1.07)" font-size="24" text-anchor="middle">7000</text>
<text transform="translate(119.5 1433.2) scale(1 1.07)" font-size="24" text-anchor="end">0</text>
<text transform="translate(119.5 1345.1) scale(1 1.07)" font-size="24" text-anchor="end">0.08</text>
<text transform="translate(119.5 1256.9) scale(1 1.07)" font-size="24" text-anchor="end">0.16</text>
<text transform="translate(119.5 1168.8) scale(1 1.07)" font-size="24" text-anchor="end">0.24</text>
<text transform="translate(119.5 1080.6) scale(1 1.07)" font-size="24" text-anchor="end">0.32</text>
<text transform="translate(119.5 992.5) scale(1 1.07)" font-size="24" text-anchor="end">0.4</text>
<text transform="translate(451 1488) scale(1 1.07)" font-size="26.5" text-anchor="middle">Time (s)</text>
<text transform="translate(62,1204.3) rotate(-90)" font-size="26.5" text-anchor="middle" class="i">S/D</text>
<path d="M129.7 1424.7L175.6 1381.3L221.5 1326.1L267.4 1277.1L313.3 1238.8L359.2 1201L405.1 1173.5L451.1 1151.5L497 1139.3L542.9 1139.3L588.8 1137.1L634.7 1136L680.6 1136L726.5 1134.5L772.4 1128.3" stroke="#d21c32" stroke-width="2.1" fill="none" stroke-dasharray="8 3 2.5 3" stroke-linejoin="round"/>
<circle cx="129.7" cy="1424.7" r="6.8" fill="#e0405a" stroke="#d21c32" stroke-width="1.6"/><circle cx="175.6" cy="1381.3" r="6.8" fill="#e0405a" stroke="#d21c32" stroke-width="1.6"/><circle cx="221.5" cy="1326.1" r="6.8" fill="#e0405a" stroke="#d21c32" stroke-width="1.6"/><circle cx="267.4" cy="1277.1" r="6.8" fill="#e0405a" stroke="#d21c32" stroke-width="1.6"/><circle cx="313.3" cy="1238.8" r="6.8" fill="#e0405a" stroke="#d21c32" stroke-width="1.6"/><circle cx="359.2" cy="1201" r="6.8" fill="#e0405a" stroke="#d21c32" stroke-width="1.6"/><circle cx="405.1" cy="1173.5" r="6.8" fill="#e0405a" stroke="#d21c32" stroke-width="1.6"/><circle cx="451.1" cy="1151.5" r="6.8" fill="#e0405a" stroke="#d21c32" stroke-width="1.6"/><circle cx="497" cy="1139.3" r="6.8" fill="#e0405a" stroke="#d21c32" stroke-width="1.6"/><circle cx="542.9" cy="1139.3" r="6.8" fill="#e0405a" stroke="#d21c32" stroke-width="1.6"/><circle cx="588.8" cy="1137.1" r="6.8" fill="#e0405a" stroke="#d21c32" stroke-width="1.6"/><circle cx="634.7" cy="1136" r="6.8" fill="#e0405a" stroke="#d21c32" stroke-width="1.6"/><circle cx="680.6" cy="1136" r="6.8" fill="#e0405a" stroke="#d21c32" stroke-width="1.6"/><circle cx="726.5" cy="1134.5" r="6.8" fill="#e0405a" stroke="#d21c32" stroke-width="1.6"/><circle cx="772.4" cy="1128.3" r="6.8" fill="#e0405a" stroke="#d21c32" stroke-width="1.6"/>
<path d="M129.7 1424.7L175.6 1364.1L221.5 1320L267.4 1278.2L313.3 1242.9L359.2 1213.2L405.1 1186.7L451.1 1160.3L497 1139.3L542.9 1119.5L588.8 1101.9L634.7 1082.1L680.6 1073.2L726.5 1055.6L772.4 1046.2" stroke="#a87474" stroke-width="2.1" fill="none" stroke-linejoin="round"/>
<path d="M129.7 1415.7L135.9 1424.7L129.7 1433.7L123.5 1424.7Z" fill="#c09c9c" stroke="#a87474" stroke-width="1.6"/><path d="M175.6 1355.1L181.8 1364.1L175.6 1373.1L169.4 1364.1Z" fill="#c09c9c" stroke="#a87474" stroke-width="1.6"/><path d="M221.5 1311L227.7 1320L221.5 1329L215.3 1320Z" fill="#c09c9c" stroke="#a87474" stroke-width="1.6"/><path d="M267.4 1269.2L273.6 1278.2L267.4 1287.2L261.2 1278.2Z" fill="#c09c9c" stroke="#a87474" stroke-width="1.6"/><path d="M313.3 1233.9L319.5 1242.9L313.3 1251.9L307.1 1242.9Z" fill="#c09c9c" stroke="#a87474" stroke-width="1.6"/><path d="M359.2 1204.2L365.4 1213.2L359.2 1222.2L353 1213.2Z" fill="#c09c9c" stroke="#a87474" stroke-width="1.6"/><path d="M405.1 1177.7L411.3 1186.7L405.1 1195.7L398.9 1186.7Z" fill="#c09c9c" stroke="#a87474" stroke-width="1.6"/><path d="M451.1 1151.3L457.2 1160.3L451.1 1169.3L444.9 1160.3Z" fill="#c09c9c" stroke="#a87474" stroke-width="1.6"/><path d="M497 1130.3L503.2 1139.3L497 1148.3L490.8 1139.3Z" fill="#c09c9c" stroke="#a87474" stroke-width="1.6"/><path d="M542.9 1110.5L549.1 1119.5L542.9 1128.5L536.7 1119.5Z" fill="#c09c9c" stroke="#a87474" stroke-width="1.6"/><path d="M588.8 1092.9L595 1101.9L588.8 1110.9L582.6 1101.9Z" fill="#c09c9c" stroke="#a87474" stroke-width="1.6"/><path d="M634.7 1073.1L640.9 1082.1L634.7 1091.1L628.5 1082.1Z" fill="#c09c9c" stroke="#a87474" stroke-width="1.6"/><path d="M680.6 1064.2L686.8 1073.2L680.6 1082.2L674.4 1073.2Z" fill="#c09c9c" stroke="#a87474" stroke-width="1.6"/><path d="M726.5 1046.6L732.7 1055.6L726.5 1064.6L720.3 1055.6Z" fill="#c09c9c" stroke="#a87474" stroke-width="1.6"/><path d="M772.4 1037.2L778.6 1046.2L772.4 1055.2L766.2 1046.2Z" fill="#c09c9c" stroke="#a87474" stroke-width="1.6"/>
<path d="M129.7 1424.7L175.6 1367.4L221.5 1322.2L267.4 1279.8L313.3 1246.8L359.2 1213.8L405.1 1187.8L451.1 1170.4L497 1156.6L542.9 1136L588.8 1124.1L634.7 1106.6L680.6 1098.1L726.5 1080.3L772.4 1079.9" stroke="#1f389c" stroke-width="2.1" fill="none" stroke-linejoin="round"/>
<path d="M124.5 1416.9L137.7 1424.7L124.5 1432.5Z" fill="#4a60b4" stroke="#1f389c" stroke-width="1.6"/><path d="M170.4 1359.6L183.6 1367.4L170.4 1375.2Z" fill="#4a60b4" stroke="#1f389c" stroke-width="1.6"/><path d="M216.3 1314.4L229.5 1322.2L216.3 1330Z" fill="#4a60b4" stroke="#1f389c" stroke-width="1.6"/><path d="M262.2 1272L275.4 1279.8L262.2 1287.6Z" fill="#4a60b4" stroke="#1f389c" stroke-width="1.6"/><path d="M308.1 1239L321.3 1246.8L308.1 1254.6Z" fill="#4a60b4" stroke="#1f389c" stroke-width="1.6"/><path d="M354 1206L367.2 1213.8L354 1221.6Z" fill="#4a60b4" stroke="#1f389c" stroke-width="1.6"/><path d="M399.9 1180L413.1 1187.8L399.9 1195.6Z" fill="#4a60b4" stroke="#1f389c" stroke-width="1.6"/><path d="M445.9 1162.6L459.1 1170.4L445.9 1178.2Z" fill="#4a60b4" stroke="#1f389c" stroke-width="1.6"/><path d="M491.8 1148.8L505 1156.6L491.8 1164.4Z" fill="#4a60b4" stroke="#1f389c" stroke-width="1.6"/><path d="M537.7 1128.2L550.9 1136L537.7 1143.8Z" fill="#4a60b4" stroke="#1f389c" stroke-width="1.6"/><path d="M583.6 1116.3L596.8 1124.1L583.6 1131.9Z" fill="#4a60b4" stroke="#1f389c" stroke-width="1.6"/><path d="M629.5 1098.8L642.7 1106.6L629.5 1114.4Z" fill="#4a60b4" stroke="#1f389c" stroke-width="1.6"/><path d="M675.4 1090.3L688.6 1098.1L675.4 1105.9Z" fill="#4a60b4" stroke="#1f389c" stroke-width="1.6"/><path d="M721.3 1072.5L734.5 1080.3L721.3 1088.1Z" fill="#4a60b4" stroke="#1f389c" stroke-width="1.6"/><path d="M767.2 1072.1L780.4 1079.9L767.2 1087.7Z" fill="#4a60b4" stroke="#1f389c" stroke-width="1.6"/>
<path d="M129.7 1424.7L175.6 1382.3L221.5 1349.2L267.4 1318.9L313.3 1290.7L359.2 1263.3L405.1 1236L451.1 1212.8L497 1191.1L542.9 1171.3L588.8 1154.8L634.7 1132.2L680.6 1123.9L726.5 1106.3L772.4 1098.1" stroke="#5cc48c" stroke-width="2.1" fill="none" stroke-linejoin="round"/>
<path d="M134.9 1416.9L121.7 1424.7L134.9 1432.5Z" fill="#8cd8ac" stroke="#5cc48c" stroke-width="1.6"/><path d="M180.8 1374.5L167.6 1382.3L180.8 1390.1Z" fill="#8cd8ac" stroke="#5cc48c" stroke-width="1.6"/><path d="M226.7 1341.4L213.5 1349.2L226.7 1357Z" fill="#8cd8ac" stroke="#5cc48c" stroke-width="1.6"/><path d="M272.6 1311.1L259.4 1318.9L272.6 1326.7Z" fill="#8cd8ac" stroke="#5cc48c" stroke-width="1.6"/><path d="M318.5 1282.9L305.3 1290.7L318.5 1298.5Z" fill="#8cd8ac" stroke="#5cc48c" stroke-width="1.6"/><path d="M364.4 1255.5L351.2 1263.3L364.4 1271.1Z" fill="#8cd8ac" stroke="#5cc48c" stroke-width="1.6"/><path d="M410.3 1228.2L397.1 1236L410.3 1243.8Z" fill="#8cd8ac" stroke="#5cc48c" stroke-width="1.6"/><path d="M456.2 1205L443.1 1212.8L456.2 1220.6Z" fill="#8cd8ac" stroke="#5cc48c" stroke-width="1.6"/><path d="M502.2 1183.3L489 1191.1L502.2 1198.9Z" fill="#8cd8ac" stroke="#5cc48c" stroke-width="1.6"/><path d="M548.1 1163.5L534.9 1171.3L548.1 1179.1Z" fill="#8cd8ac" stroke="#5cc48c" stroke-width="1.6"/><path d="M594 1147L580.8 1154.8L594 1162.6Z" fill="#8cd8ac" stroke="#5cc48c" stroke-width="1.6"/><path d="M639.9 1124.4L626.7 1132.2L639.9 1140Z" fill="#8cd8ac" stroke="#5cc48c" stroke-width="1.6"/><path d="M685.8 1116.1L672.6 1123.9L685.8 1131.7Z" fill="#8cd8ac" stroke="#5cc48c" stroke-width="1.6"/><path d="M731.7 1098.5L718.5 1106.3L731.7 1114.1Z" fill="#8cd8ac" stroke="#5cc48c" stroke-width="1.6"/><path d="M777.6 1090.3L764.4 1098.1L777.6 1105.9Z" fill="#8cd8ac" stroke="#5cc48c" stroke-width="1.6"/>
<path d="M129.7 1424.7L175.6 1393.1L221.5 1366.3L267.4 1339.9L313.3 1314.5L359.2 1287L405.1 1260L451.1 1233.7L497 1209.1L542.9 1184.1L588.8 1155.9L634.7 1133.8L680.6 1126.5L726.5 1110.7L772.4 1104.1" stroke="#7a5cff" stroke-width="2.1" fill="none" stroke-linejoin="round"/>
<path d="M121.7 1429.7L129.7 1416.2L137.7 1429.7Z" fill="#8a74ff" stroke="#7a5cff" stroke-width="1.6"/><path d="M167.6 1398.1L175.6 1384.6L183.6 1398.1Z" fill="#8a74ff" stroke="#7a5cff" stroke-width="1.6"/><path d="M213.5 1371.3L221.5 1357.8L229.5 1371.3Z" fill="#8a74ff" stroke="#7a5cff" stroke-width="1.6"/><path d="M259.4 1344.9L267.4 1331.4L275.4 1344.9Z" fill="#8a74ff" stroke="#7a5cff" stroke-width="1.6"/><path d="M305.3 1319.5L313.3 1306L321.3 1319.5Z" fill="#8a74ff" stroke="#7a5cff" stroke-width="1.6"/><path d="M351.2 1292L359.2 1278.5L367.2 1292Z" fill="#8a74ff" stroke="#7a5cff" stroke-width="1.6"/><path d="M397.1 1265L405.1 1251.5L413.1 1265Z" fill="#8a74ff" stroke="#7a5cff" stroke-width="1.6"/><path d="M443.1 1238.7L451.1 1225.2L459.1 1238.7Z" fill="#8a74ff" stroke="#7a5cff" stroke-width="1.6"/><path d="M489 1214.1L497 1200.6L505 1214.1Z" fill="#8a74ff" stroke="#7a5cff" stroke-width="1.6"/><path d="M534.9 1189.1L542.9 1175.6L550.9 1189.1Z" fill="#8a74ff" stroke="#7a5cff" stroke-width="1.6"/><path d="M580.8 1160.9L588.8 1147.4L596.8 1160.9Z" fill="#8a74ff" stroke="#7a5cff" stroke-width="1.6"/><path d="M626.7 1138.8L634.7 1125.3L642.7 1138.8Z" fill="#8a74ff" stroke="#7a5cff" stroke-width="1.6"/><path d="M672.6 1131.5L680.6 1118L688.6 1131.5Z" fill="#8a74ff" stroke="#7a5cff" stroke-width="1.6"/><path d="M718.5 1115.7L726.5 1102.2L734.5 1115.7Z" fill="#8a74ff" stroke="#7a5cff" stroke-width="1.6"/><path d="M764.4 1109.1L772.4 1095.6L780.4 1109.1Z" fill="#8a74ff" stroke="#7a5cff" stroke-width="1.6"/>
<path d="M129.7 1424.7L175.6 1356.7L221.5 1310.6L267.4 1272.7L313.3 1243.5L359.2 1216.5L405.1 1209.9L451.1 1193.3L497 1186.7L542.9 1183.4L588.8 1187.8L634.7 1173.5L680.6 1157.2L726.5 1143L772.4 1131.2" stroke="#0a4a78" stroke-width="2.1" fill="none" stroke-linejoin="round"/>
<path d="M121.7 1419.7L129.7 1433.2L137.7 1419.7Z" fill="#0c5c8a" stroke="#0a4a78" stroke-width="1.6"/><path d="M167.6 1351.7L175.6 1365.2L183.6 1351.7Z" fill="#0c5c8a" stroke="#0a4a78" stroke-width="1.6"/><path d="M213.5 1305.6L221.5 1319.1L229.5 1305.6Z" fill="#0c5c8a" stroke="#0a4a78" stroke-width="1.6"/><path d="M259.4 1267.7L267.4 1281.2L275.4 1267.7Z" fill="#0c5c8a" stroke="#0a4a78" stroke-width="1.6"/><path d="M305.3 1238.5L313.3 1252L321.3 1238.5Z" fill="#0c5c8a" stroke="#0a4a78" stroke-width="1.6"/><path d="M351.2 1211.5L359.2 1225L367.2 1211.5Z" fill="#0c5c8a" stroke="#0a4a78" stroke-width="1.6"/><path d="M397.1 1204.9L405.1 1218.4L413.1 1204.9Z" fill="#0c5c8a" stroke="#0a4a78" stroke-width="1.6"/><path d="M443.1 1188.3L451.1 1201.8L459.1 1188.3Z" fill="#0c5c8a" stroke="#0a4a78" stroke-width="1.6"/><path d="M489 1181.7L497 1195.2L505 1181.7Z" fill="#0c5c8a" stroke="#0a4a78" stroke-width="1.6"/><path d="M534.9 1178.4L542.9 1191.9L550.9 1178.4Z" fill="#0c5c8a" stroke="#0a4a78" stroke-width="1.6"/><path d="M580.8 1182.8L588.8 1196.3L596.8 1182.8Z" fill="#0c5c8a" stroke="#0a4a78" stroke-width="1.6"/><path d="M626.7 1168.5L634.7 1182L642.7 1168.5Z" fill="#0c5c8a" stroke="#0a4a78" stroke-width="1.6"/><path d="M672.6 1152.2L680.6 1165.7L688.6 1152.2Z" fill="#0c5c8a" stroke="#0a4a78" stroke-width="1.6"/><path d="M718.5 1138L726.5 1151.5L734.5 1138Z" fill="#0c5c8a" stroke="#0a4a78" stroke-width="1.6"/><path d="M764.4 1126.2L772.4 1139.7L780.4 1126.2Z" fill="#0c5c8a" stroke="#0a4a78" stroke-width="1.6"/>
<path d="M129.7 1424.7L175.6 1356.7L221.5 1311.9L267.4 1274.2L313.3 1245.4L359.2 1223.7L405.1 1212.1L451.1 1200.6L497 1186.7L542.9 1186.9L588.8 1186L634.7 1175L680.6 1158.6L726.5 1151L772.4 1138.2" stroke="#ff7a00" stroke-width="2.1" fill="none" stroke-linejoin="round"/>
<rect x="124.1" y="1419.1" width="11.2" height="11.2" fill="#ff8408" stroke="#ff7a00" stroke-width="1.6"/><rect x="170" y="1351.1" width="11.2" height="11.2" fill="#ff8408" stroke="#ff7a00" stroke-width="1.6"/><rect x="215.9" y="1306.3" width="11.2" height="11.2" fill="#ff8408" stroke="#ff7a00" stroke-width="1.6"/><rect x="261.8" y="1268.6" width="11.2" height="11.2" fill="#ff8408" stroke="#ff7a00" stroke-width="1.6"/><rect x="307.7" y="1239.8" width="11.2" height="11.2" fill="#ff8408" stroke="#ff7a00" stroke-width="1.6"/><rect x="353.6" y="1218.1" width="11.2" height="11.2" fill="#ff8408" stroke="#ff7a00" stroke-width="1.6"/><rect x="399.5" y="1206.5" width="11.2" height="11.2" fill="#ff8408" stroke="#ff7a00" stroke-width="1.6"/><rect x="445.4" y="1195" width="11.2" height="11.2" fill="#ff8408" stroke="#ff7a00" stroke-width="1.6"/><rect x="491.4" y="1181.1" width="11.2" height="11.2" fill="#ff8408" stroke="#ff7a00" stroke-width="1.6"/><rect x="537.3" y="1181.3" width="11.2" height="11.2" fill="#ff8408" stroke="#ff7a00" stroke-width="1.6"/><rect x="583.2" y="1180.4" width="11.2" height="11.2" fill="#ff8408" stroke="#ff7a00" stroke-width="1.6"/><rect x="629.1" y="1169.4" width="11.2" height="11.2" fill="#ff8408" stroke="#ff7a00" stroke-width="1.6"/><rect x="675" y="1153" width="11.2" height="11.2" fill="#ff8408" stroke="#ff7a00" stroke-width="1.6"/><rect x="720.9" y="1145.4" width="11.2" height="11.2" fill="#ff8408" stroke="#ff7a00" stroke-width="1.6"/><rect x="766.8" y="1132.6" width="11.2" height="11.2" fill="#ff8408" stroke="#ff7a00" stroke-width="1.6"/>
<rect x="581.9" y="1222.2" width="170.9" height="179.3" fill="#fff" stroke="#000" stroke-width="2.3"/>
<path d="M590.4 1238.2H663.4" stroke="#d21c32" stroke-width="2.1" stroke-dasharray="8 3 2.5 3"/>
<circle cx="626.9" cy="1238.2" r="6.5" fill="#e0405a" stroke="#d21c32" stroke-width="1.6"/>
<text transform="translate(669.9 1244.2) scale(1 1.07)" font-size="19.5">control</text>
<path d="M590.4 1262.8H663.4" stroke="#a87474" stroke-width="2.1"/>
<path d="M626.9 1254.3L632.8 1262.8L626.9 1271.4L621 1262.8Z" fill="#c09c9c" stroke="#a87474" stroke-width="1.6"/>
<text transform="translate(669.9 1268.8) scale(1 1.07)" font-size="19"><tspan class="i">P</tspan>/<tspan class="i">L</tspan> = 0</text>
<path d="M590.4 1287.5H663.4" stroke="#1f389c" stroke-width="2.1"/>
<path d="M622 1280.1L634.5 1287.5L622 1294.9Z" fill="#4a60b4" stroke="#1f389c" stroke-width="1.6"/>
<text transform="translate(669.9 1293.5) scale(1 1.07)" font-size="19"><tspan class="i">P</tspan>/<tspan class="i">L</tspan> = 1.0</text>
<path d="M590.4 1312.1H663.4" stroke="#5cc48c" stroke-width="2.1"/>
<path d="M631.8 1304.7L619.3 1312.1L631.8 1319.6Z" fill="#8cd8ac" stroke="#5cc48c" stroke-width="1.6"/>
<text transform="translate(669.9 1318.1) scale(1 1.07)" font-size="19"><tspan class="i">P</tspan>/<tspan class="i">L</tspan> = 2.0</text>
<path d="M590.4 1336.8H663.4" stroke="#7a5cff" stroke-width="2.1"/>
<path d="M619.3 1341.5L626.9 1328.7L634.5 1341.5Z" fill="#8a74ff" stroke="#7a5cff" stroke-width="1.6"/>
<text transform="translate(669.9 1342.8) scale(1 1.07)" font-size="19"><tspan class="i">P</tspan>/<tspan class="i">L</tspan> = 3.0</text>
<path d="M590.4 1361.4H663.4" stroke="#0a4a78" stroke-width="2.1"/>
<path d="M619.3 1356.7L626.9 1369.5L634.5 1356.7Z" fill="#0c5c8a" stroke="#0a4a78" stroke-width="1.6"/>
<text transform="translate(669.9 1367.4) scale(1 1.07)" font-size="19"><tspan class="i">P</tspan>/<tspan class="i">L</tspan> = 4.0</text>
<path d="M590.4 1386.1H663.4" stroke="#ff7a00" stroke-width="2.1"/>
<rect x="621.6" y="1380.8" width="10.6" height="10.6" fill="#ff8408" stroke="#ff7a00" stroke-width="1.6"/>
<text transform="translate(669.9 1392.1) scale(1 1.07)" font-size="19"><tspan class="i">P</tspan>/<tspan class="i">L</tspan> = 5.0</text>
<text class="pl" transform="translate(958.6 945.4) scale(1 1.04)">C</text>
<path d="M1176.6 983.6V1424.6M1268.3 983.6V1424.6M1360.1 983.6V1424.6M1451.9 983.6V1424.6M1543.7 983.6V1424.6M1635.4 983.6V1424.6M1727.2 983.6V1424.6M1084.8 1336.4H1727.2M1084.8 1248.2H1727.2M1084.8 1160H1727.2M1084.8 1071.8H1727.2M1084.8 983.6H1727.2" stroke="#5a5a5a" stroke-width="1.6" fill="none"/>
<path d="M1084.8 1424.6v-6.5M1176.6 1424.6v-6.5M1268.3 1424.6v-6.5M1360.1 1424.6v-6.5M1451.9 1424.6v-6.5M1543.7 1424.6v-6.5M1635.4 1424.6v-6.5M1727.2 1424.6v-6.5M1084.8 1424.6h6.5M1084.8 1336.4h6.5M1084.8 1248.2h6.5M1084.8 1160h6.5M1084.8 1071.8h6.5M1084.8 983.6h6.5" stroke="#111" stroke-width="1.8" fill="none"/>
<path d="M1084.8 982.6V1424.6H1728.2" stroke="#0a0a0a" stroke-width="2.4" fill="none" stroke-linejoin="miter"/>
<text transform="translate(1084.8 1457.6) scale(1 1.07)" font-size="24" text-anchor="middle">0</text>
<text transform="translate(1176.6 1457.6) scale(1 1.07)" font-size="24" text-anchor="middle">1000</text>
<text transform="translate(1268.3 1457.6) scale(1 1.07)" font-size="24" text-anchor="middle">2000</text>
<text transform="translate(1360.1 1457.6) scale(1 1.07)" font-size="24" text-anchor="middle">3000</text>
<text transform="translate(1451.9 1457.6) scale(1 1.07)" font-size="24" text-anchor="middle">4000</text>
<text transform="translate(1543.7 1457.6) scale(1 1.07)" font-size="24" text-anchor="middle">5000</text>
<text transform="translate(1635.4 1457.6) scale(1 1.07)" font-size="24" text-anchor="middle">6000</text>
<text transform="translate(1727.2 1457.6) scale(1 1.07)" font-size="24" text-anchor="middle">7000</text>
<text transform="translate(1074.6 1433.1) scale(1 1.07)" font-size="24" text-anchor="end">0</text>
<text transform="translate(1074.6 1344.9) scale(1 1.07)" font-size="24" text-anchor="end">0.1</text>
<text transform="translate(1074.6 1256.7) scale(1 1.07)" font-size="24" text-anchor="end">0.2</text>
<text transform="translate(1074.6 1168.5) scale(1 1.07)" font-size="24" text-anchor="end">0.3</text>
<text transform="translate(1074.6 1080.3) scale(1 1.07)" font-size="24" text-anchor="end">0.4</text>
<text transform="translate(1074.6 992.1) scale(1 1.07)" font-size="24" text-anchor="end">0.5</text>
<text transform="translate(1406 1488) scale(1 1.07)" font-size="26.5" text-anchor="middle">Time (s)</text>
<text transform="translate(1019,1198.1) rotate(-90)" font-size="26.5" text-anchor="middle" class="i">V/V<tspan dy="14.5" font-size="23">c</tspan></text>
<path d="M1084.8 1424.6L1176.6 1347L1268.3 1271.7L1360.1 1235.5L1451.9 1175.3L1543.7 1132.4L1635.4 1084.1L1727.2 1005.5" stroke="#d21c32" stroke-width="2.1" fill="none" stroke-dasharray="8 3 2.5 3" stroke-linejoin="round"/>
<circle cx="1084.8" cy="1424.6" r="6.8" fill="#e0405a" stroke="#d21c32" stroke-width="1.6"/><circle cx="1176.6" cy="1347" r="6.8" fill="#e0405a" stroke="#d21c32" stroke-width="1.6"/><circle cx="1268.3" cy="1271.7" r="6.8" fill="#e0405a" stroke="#d21c32" stroke-width="1.6"/><circle cx="1360.1" cy="1235.5" r="6.8" fill="#e0405a" stroke="#d21c32" stroke-width="1.6"/><circle cx="1451.9" cy="1175.3" r="6.8" fill="#e0405a" stroke="#d21c32" stroke-width="1.6"/><circle cx="1543.7" cy="1132.4" r="6.8" fill="#e0405a" stroke="#d21c32" stroke-width="1.6"/><circle cx="1635.4" cy="1084.1" r="6.8" fill="#e0405a" stroke="#d21c32" stroke-width="1.6"/><circle cx="1727.2" cy="1005.5" r="6.8" fill="#e0405a" stroke="#d21c32" stroke-width="1.6"/>
<path d="M1084.8 1424.6L1176.6 1337L1268.3 1283.5L1360.1 1211.6L1451.9 1154.4L1543.7 1106L1635.4 1057.2L1727.2 1008" stroke="#a87474" stroke-width="2.1" fill="none" stroke-linejoin="round"/>
<path d="M1084.8 1415.6L1091 1424.6L1084.8 1433.6L1078.6 1424.6Z" fill="#c09c9c" stroke="#a87474" stroke-width="1.6"/><path d="M1176.6 1328L1182.8 1337L1176.6 1346L1170.4 1337Z" fill="#c09c9c" stroke="#a87474" stroke-width="1.6"/><path d="M1268.3 1274.5L1274.5 1283.5L1268.3 1292.5L1262.1 1283.5Z" fill="#c09c9c" stroke="#a87474" stroke-width="1.6"/><path d="M1360.1 1202.6L1366.3 1211.6L1360.1 1220.6L1353.9 1211.6Z" fill="#c09c9c" stroke="#a87474" stroke-width="1.6"/><path d="M1451.9 1145.4L1458.1 1154.4L1451.9 1163.4L1445.7 1154.4Z" fill="#c09c9c" stroke="#a87474" stroke-width="1.6"/><path d="M1543.7 1097L1549.9 1106L1543.7 1115L1537.5 1106Z" fill="#c09c9c" stroke="#a87474" stroke-width="1.6"/><path d="M1635.4 1048.2L1641.6 1057.2L1635.4 1066.2L1629.2 1057.2Z" fill="#c09c9c" stroke="#a87474" stroke-width="1.6"/><path d="M1727.2 999L1733.4 1008L1727.2 1017L1721 1008Z" fill="#c09c9c" stroke="#a87474" stroke-width="1.6"/>
<path d="M1084.8 1424.6L1176.6 1346.5L1268.3 1300.7L1360.1 1242L1451.9 1186.2L1543.7 1123.5L1635.4 1071.8L1727.2 1041.4" stroke="#1f389c" stroke-width="2.1" fill="none" stroke-linejoin="round"/>
<path d="M1079.6 1416.8L1092.8 1424.6L1079.6 1432.4Z" fill="#4a60b4" stroke="#1f389c" stroke-width="1.6"/><path d="M1171.4 1338.7L1184.6 1346.5L1171.4 1354.3Z" fill="#4a60b4" stroke="#1f389c" stroke-width="1.6"/><path d="M1263.1 1292.9L1276.3 1300.7L1263.1 1308.5Z" fill="#4a60b4" stroke="#1f389c" stroke-width="1.6"/><path d="M1354.9 1234.2L1368.1 1242L1354.9 1249.8Z" fill="#4a60b4" stroke="#1f389c" stroke-width="1.6"/><path d="M1446.7 1178.4L1459.9 1186.2L1446.7 1194Z" fill="#4a60b4" stroke="#1f389c" stroke-width="1.6"/><path d="M1538.5 1115.7L1551.7 1123.5L1538.5 1131.3Z" fill="#4a60b4" stroke="#1f389c" stroke-width="1.6"/><path d="M1630.2 1064L1643.4 1071.8L1630.2 1079.6Z" fill="#4a60b4" stroke="#1f389c" stroke-width="1.6"/><path d="M1722 1033.6L1735.2 1041.4L1722 1049.2Z" fill="#4a60b4" stroke="#1f389c" stroke-width="1.6"/>
<path d="M1084.8 1424.6L1176.6 1347.9L1268.3 1305.5L1360.1 1248.2L1451.9 1199.7L1543.7 1150.3L1635.4 1105.1L1727.2 1065.6" stroke="#5cc48c" stroke-width="2.1" fill="none" stroke-linejoin="round"/>
<path d="M1090 1416.8L1076.8 1424.6L1090 1432.4Z" fill="#8cd8ac" stroke="#5cc48c" stroke-width="1.6"/><path d="M1181.8 1340.1L1168.6 1347.9L1181.8 1355.7Z" fill="#8cd8ac" stroke="#5cc48c" stroke-width="1.6"/><path d="M1273.5 1297.7L1260.3 1305.5L1273.5 1313.3Z" fill="#8cd8ac" stroke="#5cc48c" stroke-width="1.6"/><path d="M1365.3 1240.4L1352.1 1248.2L1365.3 1256Z" fill="#8cd8ac" stroke="#5cc48c" stroke-width="1.6"/><path d="M1457.1 1191.9L1443.9 1199.7L1457.1 1207.5Z" fill="#8cd8ac" stroke="#5cc48c" stroke-width="1.6"/><path d="M1548.9 1142.5L1535.7 1150.3L1548.9 1158.1Z" fill="#8cd8ac" stroke="#5cc48c" stroke-width="1.6"/><path d="M1640.6 1097.3L1627.4 1105.1L1640.6 1112.9Z" fill="#8cd8ac" stroke="#5cc48c" stroke-width="1.6"/><path d="M1732.4 1057.8L1719.2 1065.6L1732.4 1073.4Z" fill="#8cd8ac" stroke="#5cc48c" stroke-width="1.6"/>
<path d="M1084.8 1424.6L1176.6 1357.9L1268.3 1308.2L1360.1 1251.7L1451.9 1203.6L1543.7 1161.3L1635.4 1128L1727.2 1104.1" stroke="#7a5cff" stroke-width="2.1" fill="none" stroke-linejoin="round"/>
<path d="M1076.8 1429.6L1084.8 1416.1L1092.8 1429.6Z" fill="#8a74ff" stroke="#7a5cff" stroke-width="1.6"/><path d="M1168.6 1362.9L1176.6 1349.4L1184.6 1362.9Z" fill="#8a74ff" stroke="#7a5cff" stroke-width="1.6"/><path d="M1260.3 1313.2L1268.3 1299.7L1276.3 1313.2Z" fill="#8a74ff" stroke="#7a5cff" stroke-width="1.6"/><path d="M1352.1 1256.7L1360.1 1243.2L1368.1 1256.7Z" fill="#8a74ff" stroke="#7a5cff" stroke-width="1.6"/><path d="M1443.9 1208.6L1451.9 1195.1L1459.9 1208.6Z" fill="#8a74ff" stroke="#7a5cff" stroke-width="1.6"/><path d="M1535.7 1166.3L1543.7 1152.8L1551.7 1166.3Z" fill="#8a74ff" stroke="#7a5cff" stroke-width="1.6"/><path d="M1627.4 1133L1635.4 1119.5L1643.4 1133Z" fill="#8a74ff" stroke="#7a5cff" stroke-width="1.6"/><path d="M1719.2 1109.1L1727.2 1095.6L1735.2 1109.1Z" fill="#8a74ff" stroke="#7a5cff" stroke-width="1.6"/>
<path d="M1084.8 1424.6L1176.6 1347L1268.3 1306.1L1360.1 1270.8L1451.9 1231L1543.7 1204.6L1635.4 1162.8L1727.2 1130" stroke="#0a4a78" stroke-width="2.1" fill="none" stroke-linejoin="round"/>
<path d="M1076.8 1419.6L1084.8 1433.1L1092.8 1419.6Z" fill="#0c5c8a" stroke="#0a4a78" stroke-width="1.6"/><path d="M1168.6 1342L1176.6 1355.5L1184.6 1342Z" fill="#0c5c8a" stroke="#0a4a78" stroke-width="1.6"/><path d="M1260.3 1301.1L1268.3 1314.6L1276.3 1301.1Z" fill="#0c5c8a" stroke="#0a4a78" stroke-width="1.6"/><path d="M1352.1 1265.8L1360.1 1279.3L1368.1 1265.8Z" fill="#0c5c8a" stroke="#0a4a78" stroke-width="1.6"/><path d="M1443.9 1226L1451.9 1239.5L1459.9 1226Z" fill="#0c5c8a" stroke="#0a4a78" stroke-width="1.6"/><path d="M1535.7 1199.6L1543.7 1213.1L1551.7 1199.6Z" fill="#0c5c8a" stroke="#0a4a78" stroke-width="1.6"/><path d="M1627.4 1157.8L1635.4 1171.3L1643.4 1157.8Z" fill="#0c5c8a" stroke="#0a4a78" stroke-width="1.6"/><path d="M1719.2 1125L1727.2 1138.5L1735.2 1125Z" fill="#0c5c8a" stroke="#0a4a78" stroke-width="1.6"/>
<path d="M1084.8 1424.6L1176.6 1347L1268.3 1286.1L1360.1 1265L1451.9 1227L1543.7 1197L1635.4 1162.8L1727.2 1136.5" stroke="#ff7a00" stroke-width="2.1" fill="none" stroke-linejoin="round"/>
<rect x="1079.2" y="1419" width="11.2" height="11.2" fill="#ff8408" stroke="#ff7a00" stroke-width="1.6"/><rect x="1171" y="1341.4" width="11.2" height="11.2" fill="#ff8408" stroke="#ff7a00" stroke-width="1.6"/><rect x="1262.7" y="1280.5" width="11.2" height="11.2" fill="#ff8408" stroke="#ff7a00" stroke-width="1.6"/><rect x="1354.5" y="1259.4" width="11.2" height="11.2" fill="#ff8408" stroke="#ff7a00" stroke-width="1.6"/><rect x="1446.3" y="1221.4" width="11.2" height="11.2" fill="#ff8408" stroke="#ff7a00" stroke-width="1.6"/><rect x="1538.1" y="1191.4" width="11.2" height="11.2" fill="#ff8408" stroke="#ff7a00" stroke-width="1.6"/><rect x="1629.8" y="1157.2" width="11.2" height="11.2" fill="#ff8408" stroke="#ff7a00" stroke-width="1.6"/><rect x="1721.6" y="1130.9" width="11.2" height="11.2" fill="#ff8408" stroke="#ff7a00" stroke-width="1.6"/>
<rect x="1537.2" y="1222.5" width="170.8" height="179.2" fill="#fff" stroke="#000" stroke-width="2.3"/>
<path d="M1545.7 1238.4H1618.7" stroke="#d21c32" stroke-width="2.1" stroke-dasharray="8 3 2.5 3"/>
<circle cx="1582.2" cy="1238.4" r="6.5" fill="#e0405a" stroke="#d21c32" stroke-width="1.6"/>
<text transform="translate(1625.2 1244.4) scale(1 1.07)" font-size="19.5">control</text>
<path d="M1545.7 1263.1H1618.7" stroke="#a87474" stroke-width="2.1"/>
<path d="M1582.2 1254.5L1588.1 1263.1L1582.2 1271.6L1576.3 1263.1Z" fill="#c09c9c" stroke="#a87474" stroke-width="1.6"/>
<text transform="translate(1625.2 1269.1) scale(1 1.07)" font-size="19"><tspan class="i">P</tspan>/<tspan class="i">L</tspan> = 0</text>
<path d="M1545.7 1287.7H1618.7" stroke="#1f389c" stroke-width="2.1"/>
<path d="M1577.3 1280.3L1589.8 1287.7L1577.3 1295.2Z" fill="#4a60b4" stroke="#1f389c" stroke-width="1.6"/>
<text transform="translate(1625.2 1293.7) scale(1 1.07)" font-size="19"><tspan class="i">P</tspan>/<tspan class="i">L</tspan> = 1.0</text>
<path d="M1545.7 1312.4H1618.7" stroke="#5cc48c" stroke-width="2.1"/>
<path d="M1587.1 1305L1574.6 1312.4L1587.1 1319.8Z" fill="#8cd8ac" stroke="#5cc48c" stroke-width="1.6"/>
<text transform="translate(1625.2 1318.4) scale(1 1.07)" font-size="19"><tspan class="i">P</tspan>/<tspan class="i">L</tspan> = 2.0</text>
<path d="M1545.7 1337H1618.7" stroke="#7a5cff" stroke-width="2.1"/>
<path d="M1574.6 1341.8L1582.2 1329L1589.8 1341.8Z" fill="#8a74ff" stroke="#7a5cff" stroke-width="1.6"/>
<text transform="translate(1625.2 1343) scale(1 1.07)" font-size="19"><tspan class="i">P</tspan>/<tspan class="i">L</tspan> = 3.0</text>
<path d="M1545.7 1361.7H1618.7" stroke="#0a4a78" stroke-width="2.1"/>
<path d="M1574.6 1356.9L1582.2 1369.8L1589.8 1356.9Z" fill="#0c5c8a" stroke="#0a4a78" stroke-width="1.6"/>
<text transform="translate(1625.2 1367.7) scale(1 1.07)" font-size="19"><tspan class="i">P</tspan>/<tspan class="i">L</tspan> = 4.0</text>
<path d="M1545.7 1386.3H1618.7" stroke="#ff7a00" stroke-width="2.1"/>
<rect x="1576.9" y="1381" width="10.6" height="10.6" fill="#ff8408" stroke="#ff7a00" stroke-width="1.6"/>
<text transform="translate(1625.2 1392.3) scale(1 1.07)" font-size="19"><tspan class="i">P</tspan>/<tspan class="i">L</tspan> = 5.0</text>
<text class="pl" transform="translate(485.5 1570.5) scale(1 1.04)">D</text>
<path d="M666.2 1599.4V2104.6M771.3 1599.4V2104.6M876.4 1599.4V2104.6M981.5 1599.4V2104.6M1086.6 1599.4V2104.6M1191.7 1599.4V2104.6M612.8 2020.4H1243.7M612.8 1936.2H1243.7M612.8 1852H1243.7M612.8 1767.8H1243.7M612.8 1683.6H1243.7" stroke="#5a5a5a" stroke-width="1.6" fill="none"/>
<rect x="636" y="1745.3" width="30.2" height="359.3" fill="#fbc03c" stroke="#0c0c2c" stroke-width="1.5"/>
<rect x="666.2" y="1825.3" width="30.2" height="279.3" fill="#6462c0" stroke="#0c0c2c" stroke-width="1.5"/>
<rect x="741.1" y="1777.6" width="30.2" height="327" fill="#fbc03c" stroke="#0c0c2c" stroke-width="1.5"/>
<rect x="771.3" y="1849.2" width="30.2" height="255.4" fill="#6462c0" stroke="#0c0c2c" stroke-width="1.5"/>
<rect x="846.2" y="1797.3" width="30.2" height="307.3" fill="#fbc03c" stroke="#0c0c2c" stroke-width="1.5"/>
<rect x="876.4" y="1864.6" width="30.2" height="240" fill="#6462c0" stroke="#0c0c2c" stroke-width="1.5"/>
<rect x="951.3" y="1801.5" width="30.2" height="303.1" fill="#fbc03c" stroke="#0c0c2c" stroke-width="1.5"/>
<rect x="981.5" y="1892.1" width="30.2" height="212.5" fill="#6462c0" stroke="#0c0c2c" stroke-width="1.5"/>
<rect x="1056.4" y="1828.1" width="30.2" height="276.5" fill="#fbc03c" stroke="#0c0c2c" stroke-width="1.5"/>
<rect x="1086.6" y="1907.3" width="30.2" height="197.3" fill="#6462c0" stroke="#0c0c2c" stroke-width="1.5"/>
<rect x="1161.5" y="1832.4" width="30.2" height="272.2" fill="#fbc03c" stroke="#0c0c2c" stroke-width="1.5"/>
<rect x="1191.7" y="1912.3" width="30.2" height="192.3" fill="#6462c0" stroke="#0c0c2c" stroke-width="1.5"/>
<path d="M666.2 1599.4v6.5M666.2 2104.6v-6.5M771.3 1599.4v6.5M771.3 2104.6v-6.5M876.4 1599.4v6.5M876.4 2104.6v-6.5M981.5 1599.4v6.5M981.5 2104.6v-6.5M1086.6 1599.4v6.5M1086.6 2104.6v-6.5M1191.7 1599.4v6.5M1191.7 2104.6v-6.5M612.8 2104.6h6.5M1243.7 2104.6h-6.5M612.8 2020.4h6.5M1243.7 2020.4h-6.5M612.8 1936.2h6.5M1243.7 1936.2h-6.5M612.8 1852h6.5M1243.7 1852h-6.5M612.8 1767.8h6.5M1243.7 1767.8h-6.5M612.8 1683.6h6.5M1243.7 1683.6h-6.5M612.8 1599.4h6.5M1243.7 1599.4h-6.5" stroke="#111" stroke-width="1.8" fill="none"/>
<rect x="612.8" y="1599.4" width="630.9" height="505.2" fill="none" stroke="#0a0a0a" stroke-width="2.4"/>
<path d="M612.8 1823.9H1243.7" stroke="#c83228" stroke-width="3.4" stroke-dasharray="18.5 19" stroke-dashoffset="-2" fill="none"/>
<path d="M666.2 1745.3C675.8 1748.3 752.2 1772.9 771.3 1777.6C790.4 1782.3 857.3 1795.1 876.4 1797.3C895.5 1799.4 962.4 1798.7 981.5 1801.5C1000.6 1804.3 1067.5 1825.3 1086.6 1828.1C1105.7 1831 1182.1 1832 1191.7 1832.4" stroke="#ffb000" stroke-width="3.4" fill="none"/>
<path d="M666.2 1825.3C675.8 1827.5 752.2 1845.6 771.3 1849.2C790.4 1852.8 857.3 1860.7 876.4 1864.6C895.5 1868.5 962.4 1888.3 981.5 1892.1C1000.6 1896 1067.5 1905.5 1086.6 1907.3C1105.7 1909.1 1182.1 1911.9 1191.7 1912.3" stroke="#3a3ad8" stroke-width="3.4" fill="none"/>
<text transform="translate(602.8 2114.2) scale(1 1.11)" font-size="24.3" text-anchor="end">0</text>
<text transform="translate(1253.5 2114.2) scale(1 1.11)" font-size="24.3">0</text>
<text transform="translate(602.8 2030) scale(1 1.11)" font-size="24.3" text-anchor="end">0.3</text>
<text transform="translate(1253.5 2030) scale(1 1.11)" font-size="24.3">0.3</text>
<text transform="translate(602.8 1945.8) scale(1 1.11)" font-size="24.3" text-anchor="end">0.6</text>
<text transform="translate(1253.5 1945.8) scale(1 1.11)" font-size="24.3">0.6</text>
<text transform="translate(602.8 1861.6) scale(1 1.11)" font-size="24.3" text-anchor="end">0.9</text>
<text transform="translate(1253.5 1861.6) scale(1 1.11)" font-size="24.3">0.9</text>
<text transform="translate(602.8 1777.4) scale(1 1.11)" font-size="24.3" text-anchor="end">1.2</text>
<text transform="translate(1253.5 1777.4) scale(1 1.11)" font-size="24.3">1.2</text>
<text transform="translate(602.8 1693.2) scale(1 1.11)" font-size="24.3" text-anchor="end">1.5</text>
<text transform="translate(1253.5 1693.2) scale(1 1.11)" font-size="24.3">1.5</text>
<text transform="translate(602.8 1609) scale(1 1.11)" font-size="24.3" text-anchor="end">1.8</text>
<text transform="translate(1253.5 1609) scale(1 1.11)" font-size="24.3">1.8</text>
<text transform="translate(663 2137.8) scale(1 1.11)" font-size="24.3" text-anchor="middle">0</text>
<text transform="translate(768.1 2137.8) scale(1 1.11)" font-size="24.3" text-anchor="middle">1.0</text>
<text transform="translate(873.2 2137.8) scale(1 1.11)" font-size="24.3" text-anchor="middle">2.0</text>
<text transform="translate(978.3 2137.8) scale(1 1.11)" font-size="24.3" text-anchor="middle">3.0</text>
<text transform="translate(1083.4 2137.8) scale(1 1.11)" font-size="24.3" text-anchor="middle">4.0</text>
<text transform="translate(1188.5 2137.8) scale(1 1.11)" font-size="24.3" text-anchor="middle">5.0</text>
<text transform="translate(928.2 2171.6) scale(1 1.07)" font-size="26.5" text-anchor="middle"><tspan class="i">P</tspan>/<tspan class="i">L</tspan></text>
<text transform="translate(549.2,1848) rotate(-90)" font-size="30.5" text-anchor="middle" class="i">S/S<tspan dy="13" font-size="22">C</tspan></text>
<text transform="translate(1318,1848) rotate(-90)" font-size="30.5" text-anchor="middle" class="i">V/V<tspan dy="13" font-size="22">C</tspan></text>
<rect x="631.7" y="1618.4" width="159.3" height="95.6" fill="#fff" stroke="#000" stroke-width="2.3"/>
<rect x="639.4" y="1629.2" width="73" height="16.6" fill="#fbc03c" stroke="#0c0c2c" stroke-width="1.3"/>
<rect x="639.4" y="1662" width="73" height="16.6" fill="#6462c0" stroke="#0c0c2c" stroke-width="1.3"/>
<path d="M639.4 1698.1H696" stroke="#c83228" stroke-width="3.4" stroke-dasharray="18 20"/>
<text x="722.5" y="1640.5" font-size="19" class="i">S/S<tspan dy="8.5" font-size="16">C</tspan></text>
<text x="724" y="1673" font-size="19" class="i">V/V<tspan dy="8.5" font-size="16">C</tspan></text>
<text x="723.5" y="1704.5" font-size="19.5">control</text></svg></body></html>
